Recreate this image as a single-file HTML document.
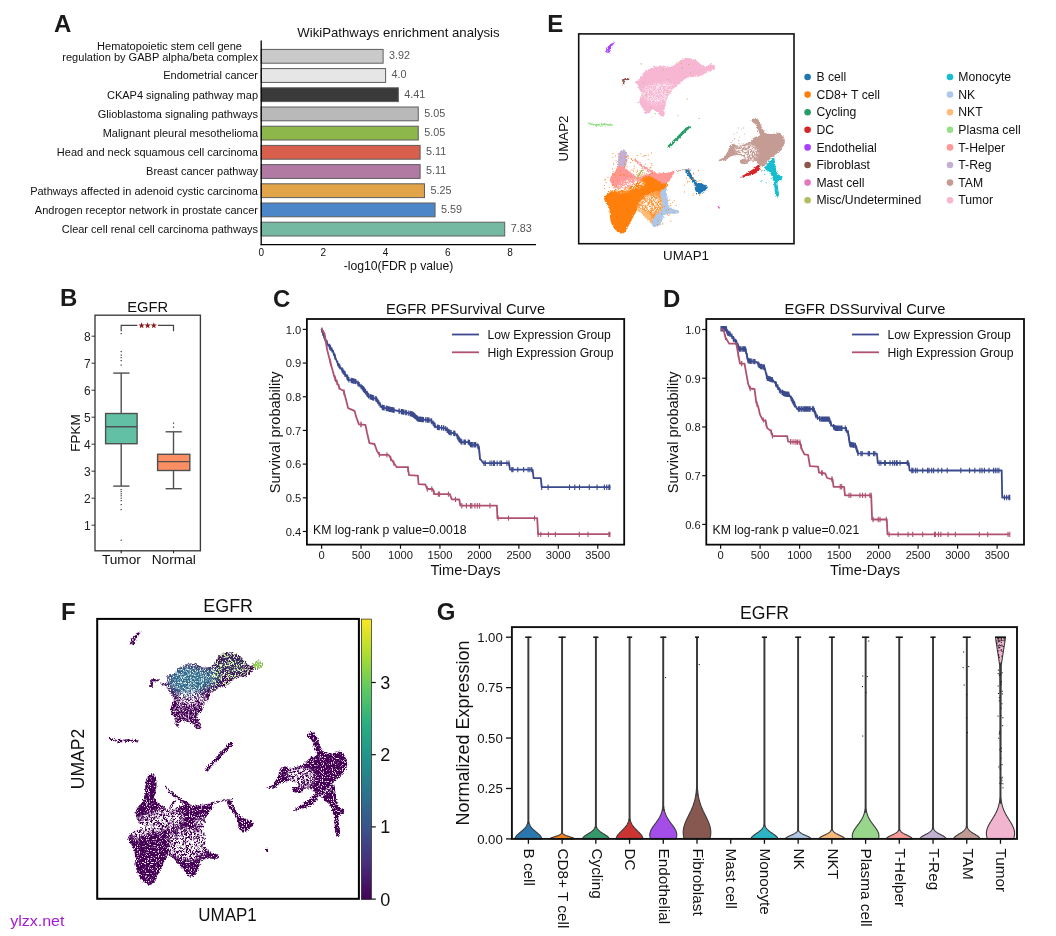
<!DOCTYPE html>
<html><head><meta charset="utf-8"><title>figure</title>
<style>html,body{margin:0;padding:0;background:#fff}svg{display:block;will-change:transform}text{font-family:"Liberation Sans",sans-serif}</style></head><body>
<svg width="1056" height="936" viewBox="0 0 1056 936">
<rect width="1056" height="936" fill="#fff"/>
<text x="54" y="32" font-size="24" text-anchor="start" font-weight="bold" fill="#1a1a1a" >A</text>
<text x="60" y="306.3" font-size="24" text-anchor="start" font-weight="bold" fill="#1a1a1a" >B</text>
<text x="273" y="306.5" font-size="24" text-anchor="start" font-weight="bold" fill="#1a1a1a" >C</text>
<text x="663" y="306.5" font-size="24" text-anchor="start" font-weight="bold" fill="#1a1a1a" >D</text>
<text x="547.2" y="31.8" font-size="24" text-anchor="start" font-weight="bold" fill="#1a1a1a" >E</text>
<text x="61" y="619.5" font-size="24" text-anchor="start" font-weight="bold" fill="#1a1a1a" >F</text>
<text x="436.8" y="620" font-size="24" text-anchor="start" font-weight="bold" fill="#1a1a1a" >G</text>
<text x="398.5" y="36.6" font-size="13.2" text-anchor="middle" font-weight="normal" fill="#111" >WikiPathways enrichment analysis</text>
<rect x="261.2" y="49.4" width="121.912" height="13.8" fill="#c9c9c9" stroke="#5e5e5e" stroke-width="1.0" />
<text x="242" y="49.699999999999996" font-size="11.05" text-anchor="end" font-weight="normal" fill="#111" >Hematopoietic stem cell gene</text>
<text x="258" y="60.7" font-size="11.05" text-anchor="end" font-weight="normal" fill="#111" >regulation by GABP alpha/beta complex</text>
<text x="389.11199999999997" y="59.199999999999996" font-size="10.8" text-anchor="start" font-weight="normal" fill="#555" >3.92</text>
<rect x="261.2" y="68.6" width="124.4" height="13.8" fill="#e6e6e6" stroke="#5e5e5e" stroke-width="1.0" />
<text x="258" y="79.4" font-size="11" text-anchor="end" font-weight="normal" fill="#111" >Endometrial cancer</text>
<text x="391.6" y="78.4" font-size="10.8" text-anchor="start" font-weight="normal" fill="#555" >4.0</text>
<rect x="261.2" y="87.8" width="137.151" height="13.8" fill="#3a3a3a" stroke="#5e5e5e" stroke-width="1.0" />
<text x="258" y="98.60000000000001" font-size="11" text-anchor="end" font-weight="normal" fill="#111" >CKAP4 signaling pathway map</text>
<text x="404.351" y="97.60000000000001" font-size="10.8" text-anchor="start" font-weight="normal" fill="#555" >4.41</text>
<rect x="261.2" y="107.0" width="157.055" height="13.8" fill="#b9b9b9" stroke="#5e5e5e" stroke-width="1.0" />
<text x="258" y="117.80000000000001" font-size="11" text-anchor="end" font-weight="normal" fill="#111" >Glioblastoma signaling pathways</text>
<text x="424.255" y="116.80000000000001" font-size="10.8" text-anchor="start" font-weight="normal" fill="#555" >5.05</text>
<rect x="261.2" y="126.19999999999999" width="157.055" height="13.8" fill="#8db64b" stroke="#5e5e5e" stroke-width="1.0" />
<text x="258" y="137.0" font-size="11" text-anchor="end" font-weight="normal" fill="#111" >Malignant pleural mesothelioma</text>
<text x="424.255" y="136.0" font-size="10.8" text-anchor="start" font-weight="normal" fill="#555" >5.05</text>
<rect x="261.2" y="145.4" width="158.92100000000002" height="13.8" fill="#d75f4c" stroke="#5e5e5e" stroke-width="1.0" />
<text x="258" y="156.20000000000002" font-size="11" text-anchor="end" font-weight="normal" fill="#111" >Head and neck squamous cell carcinoma</text>
<text x="426.121" y="155.20000000000002" font-size="10.8" text-anchor="start" font-weight="normal" fill="#555" >5.11</text>
<rect x="261.2" y="164.6" width="158.92100000000002" height="13.8" fill="#b07aa2" stroke="#5e5e5e" stroke-width="1.0" />
<text x="258" y="175.4" font-size="11" text-anchor="end" font-weight="normal" fill="#111" >Breast cancer pathway</text>
<text x="426.121" y="174.4" font-size="10.8" text-anchor="start" font-weight="normal" fill="#555" >5.11</text>
<rect x="261.2" y="183.8" width="163.275" height="13.8" fill="#e1a448" stroke="#5e5e5e" stroke-width="1.0" />
<text x="258" y="194.60000000000002" font-size="11" text-anchor="end" font-weight="normal" fill="#111" >Pathways affected in adenoid cystic carcinoma</text>
<text x="430.475" y="193.60000000000002" font-size="10.8" text-anchor="start" font-weight="normal" fill="#555" >5.25</text>
<rect x="261.2" y="203.0" width="173.849" height="13.8" fill="#4b86c9" stroke="#5e5e5e" stroke-width="1.0" />
<text x="258" y="213.8" font-size="11" text-anchor="end" font-weight="normal" fill="#111" >Androgen receptor network in prostate cancer</text>
<text x="441.049" y="212.8" font-size="10.8" text-anchor="start" font-weight="normal" fill="#555" >5.59</text>
<rect x="261.2" y="222.2" width="243.513" height="13.8" fill="#76b9a2" stroke="#5e5e5e" stroke-width="1.0" />
<text x="258" y="233.0" font-size="11" text-anchor="end" font-weight="normal" fill="#111" >Clear cell renal cell carcinoma pathways</text>
<text x="510.71299999999997" y="232.0" font-size="10.8" text-anchor="start" font-weight="normal" fill="#555" >7.83</text>
<line x1="261.2" y1="40.5" x2="261.2" y2="245.2" stroke="#000" stroke-width="1.3" />
<line x1="260.59999999999997" y1="244.6" x2="536" y2="244.6" stroke="#000" stroke-width="1.3" />
<text x="261.2" y="255.8" font-size="10" text-anchor="middle" font-weight="normal" fill="#111" >0</text>
<text x="323.4" y="255.8" font-size="10" text-anchor="middle" font-weight="normal" fill="#111" >2</text>
<text x="385.6" y="255.8" font-size="10" text-anchor="middle" font-weight="normal" fill="#111" >4</text>
<text x="447.8" y="255.8" font-size="10" text-anchor="middle" font-weight="normal" fill="#111" >6</text>
<text x="510.0" y="255.8" font-size="10" text-anchor="middle" font-weight="normal" fill="#111" >8</text>
<text x="398.5" y="269.7" font-size="12.2" text-anchor="middle" font-weight="normal" fill="#111" >-log10(FDR p value)</text>
<rect x="95.0" y="315.2" width="105.4" height="235.59999999999997" fill="none" stroke="#3a3a3a" stroke-width="1.35" />
<text x="147.7" y="311.8" font-size="14.7" text-anchor="middle" font-weight="normal" fill="#111" >EGFR</text>
<line x1="91.5" y1="525.2" x2="95.0" y2="525.2" stroke="#222" stroke-width="0.9" />
<text x="90.8" y="529.5" font-size="12" text-anchor="end" font-weight="normal" fill="#222" >1</text>
<line x1="91.5" y1="498.20000000000005" x2="95.0" y2="498.20000000000005" stroke="#222" stroke-width="0.9" />
<text x="90.8" y="502.50000000000006" font-size="12" text-anchor="end" font-weight="normal" fill="#222" >2</text>
<line x1="91.5" y1="471.20000000000005" x2="95.0" y2="471.20000000000005" stroke="#222" stroke-width="0.9" />
<text x="90.8" y="475.50000000000006" font-size="12" text-anchor="end" font-weight="normal" fill="#222" >3</text>
<line x1="91.5" y1="444.20000000000005" x2="95.0" y2="444.20000000000005" stroke="#222" stroke-width="0.9" />
<text x="90.8" y="448.50000000000006" font-size="12" text-anchor="end" font-weight="normal" fill="#222" >4</text>
<line x1="91.5" y1="417.20000000000005" x2="95.0" y2="417.20000000000005" stroke="#222" stroke-width="0.9" />
<text x="90.8" y="421.50000000000006" font-size="12" text-anchor="end" font-weight="normal" fill="#222" >5</text>
<line x1="91.5" y1="390.20000000000005" x2="95.0" y2="390.20000000000005" stroke="#222" stroke-width="0.9" />
<text x="90.8" y="394.50000000000006" font-size="12" text-anchor="end" font-weight="normal" fill="#222" >6</text>
<line x1="91.5" y1="363.20000000000005" x2="95.0" y2="363.20000000000005" stroke="#222" stroke-width="0.9" />
<text x="90.8" y="367.50000000000006" font-size="12" text-anchor="end" font-weight="normal" fill="#222" >7</text>
<line x1="91.5" y1="336.20000000000005" x2="95.0" y2="336.20000000000005" stroke="#222" stroke-width="0.9" />
<text x="90.8" y="340.50000000000006" font-size="12" text-anchor="end" font-weight="normal" fill="#222" >8</text>
<text transform="translate(79.6,433) rotate(-90)" font-size="13.5" text-anchor="middle" fill="#111">FPKM</text>
<line x1="121.2" y1="373.1" x2="121.2" y2="413.5" stroke="#505050" stroke-width="1.4" />
<line x1="121.2" y1="443.7" x2="121.2" y2="486.1" stroke="#505050" stroke-width="1.4" />
<line x1="113.2" y1="373.1" x2="129.5" y2="373.1" stroke="#505050" stroke-width="1.4" />
<line x1="113.2" y1="486.1" x2="129.5" y2="486.1" stroke="#505050" stroke-width="1.4" />
<rect x="105.6" y="413.5" width="31.5" height="30.19999999999999" fill="#62c0a4" stroke="#505050" stroke-width="1.4" />
<line x1="105.6" y1="426.8" x2="137.1" y2="426.8" stroke="#505050" stroke-width="1.4" />
<line x1="173.5" y1="431.8" x2="173.5" y2="454.3" stroke="#505050" stroke-width="1.4" />
<line x1="173.5" y1="470.5" x2="173.5" y2="488.7" stroke="#505050" stroke-width="1.4" />
<line x1="165.6" y1="431.8" x2="181.8" y2="431.8" stroke="#505050" stroke-width="1.4" />
<line x1="165.6" y1="488.7" x2="181.8" y2="488.7" stroke="#505050" stroke-width="1.4" />
<rect x="157.6" y="454.3" width="32.20000000000002" height="16.19999999999999" fill="#fb8e62" stroke="#505050" stroke-width="1.4" />
<line x1="157.6" y1="461.6" x2="189.8" y2="461.6" stroke="#505050" stroke-width="1.4" />
<rect x="120.6" y="333" width="1.2" height="1.2" fill="#333"/>
<rect x="120.6" y="351" width="1.2" height="1.2" fill="#333"/>
<rect x="120.6" y="354.5" width="1.2" height="1.2" fill="#333"/>
<rect x="120.6" y="357" width="1.2" height="1.2" fill="#333"/>
<rect x="120.6" y="360" width="1.2" height="1.2" fill="#333"/>
<rect x="120.6" y="364.5" width="1.2" height="1.2" fill="#333"/>
<rect x="120.6" y="489" width="1.2" height="1.2" fill="#333"/>
<rect x="120.6" y="491" width="1.2" height="1.2" fill="#333"/>
<rect x="120.6" y="493.2" width="1.2" height="1.2" fill="#333"/>
<rect x="120.6" y="495.2" width="1.2" height="1.2" fill="#333"/>
<rect x="120.6" y="497.6" width="1.2" height="1.2" fill="#333"/>
<rect x="120.6" y="500" width="1.2" height="1.2" fill="#333"/>
<rect x="120.6" y="504" width="1.2" height="1.2" fill="#333"/>
<rect x="120.6" y="509" width="1.2" height="1.2" fill="#333"/>
<rect x="120.6" y="539.6" width="1.2" height="1.2" fill="#333"/>
<rect x="172.9" y="422.5" width="1.2" height="1.2" fill="#333"/>
<rect x="172.9" y="426.5" width="1.2" height="1.2" fill="#333"/>
<path d="M121.2 331.3 V325.4 H137.3 M158 325.4 H173.5 V331.3" fill="none" stroke="#444" stroke-width="1.2"/>
<polygon points="141.60,322.30 142.39,324.51 144.74,324.58 142.88,326.02 143.54,328.27 141.60,326.95 139.66,328.27 140.32,326.02 138.46,324.58 140.81,324.51" fill="#8e1b1b"/>
<polygon points="147.60,322.30 148.39,324.51 150.74,324.58 148.88,326.02 149.54,328.27 147.60,326.95 145.66,328.27 146.32,326.02 144.46,324.58 146.81,324.51" fill="#8e1b1b"/>
<polygon points="153.80,322.30 154.59,324.51 156.94,324.58 155.08,326.02 155.74,328.27 153.80,326.95 151.86,328.27 152.52,326.02 150.66,324.58 153.01,324.51" fill="#8e1b1b"/>
<line x1="121.2" y1="550.8" x2="121.2" y2="553.1999999999999" stroke="#222" stroke-width="1.1" />
<line x1="173.6" y1="550.8" x2="173.6" y2="553.1999999999999" stroke="#222" stroke-width="1.1" />
<text x="121.4" y="563.5" font-size="13.7" text-anchor="middle" font-weight="normal" fill="#111" >Tumor</text>
<text x="173.8" y="563.5" font-size="13.7" text-anchor="middle" font-weight="normal" fill="#111" >Normal</text>
<rect x="306.9" y="319.0" width="317.30000000000007" height="225.64999999999998" fill="none" stroke="#0a0a0a" stroke-width="1.8" />
<text x="465.5" y="314.3" font-size="14.7" text-anchor="middle" font-weight="normal" fill="#111" >EGFR PFSurvival Curve</text>
<line x1="321.6" y1="544.65" x2="321.6" y2="548.75" stroke="#111" stroke-width="1.2" />
<text x="321.6" y="558.9499999999999" font-size="11.2" text-anchor="middle" font-weight="normal" fill="#1a1a1a" >0</text>
<line x1="361.05" y1="544.65" x2="361.05" y2="548.75" stroke="#111" stroke-width="1.2" />
<text x="361.05" y="558.9499999999999" font-size="11.2" text-anchor="middle" font-weight="normal" fill="#1a1a1a" >500</text>
<line x1="400.5" y1="544.65" x2="400.5" y2="548.75" stroke="#111" stroke-width="1.2" />
<text x="400.5" y="558.9499999999999" font-size="11.2" text-anchor="middle" font-weight="normal" fill="#1a1a1a" >1000</text>
<line x1="439.95000000000005" y1="544.65" x2="439.95000000000005" y2="548.75" stroke="#111" stroke-width="1.2" />
<text x="439.95000000000005" y="558.9499999999999" font-size="11.2" text-anchor="middle" font-weight="normal" fill="#1a1a1a" >1500</text>
<line x1="479.40000000000003" y1="544.65" x2="479.40000000000003" y2="548.75" stroke="#111" stroke-width="1.2" />
<text x="479.40000000000003" y="558.9499999999999" font-size="11.2" text-anchor="middle" font-weight="normal" fill="#1a1a1a" >2000</text>
<line x1="518.85" y1="544.65" x2="518.85" y2="548.75" stroke="#111" stroke-width="1.2" />
<text x="518.85" y="558.9499999999999" font-size="11.2" text-anchor="middle" font-weight="normal" fill="#1a1a1a" >2500</text>
<line x1="558.3000000000001" y1="544.65" x2="558.3000000000001" y2="548.75" stroke="#111" stroke-width="1.2" />
<text x="558.3000000000001" y="558.9499999999999" font-size="11.2" text-anchor="middle" font-weight="normal" fill="#1a1a1a" >3000</text>
<line x1="597.75" y1="544.65" x2="597.75" y2="548.75" stroke="#111" stroke-width="1.2" />
<text x="597.75" y="558.9499999999999" font-size="11.2" text-anchor="middle" font-weight="normal" fill="#1a1a1a" >3500</text>
<line x1="302.79999999999995" y1="329.4" x2="306.9" y2="329.4" stroke="#111" stroke-width="1.2" />
<text x="301.29999999999995" y="333.7" font-size="11.2" text-anchor="end" font-weight="normal" fill="#1a1a1a" >1.0</text>
<line x1="302.79999999999995" y1="363.08" x2="306.9" y2="363.08" stroke="#111" stroke-width="1.2" />
<text x="301.29999999999995" y="367.38" font-size="11.2" text-anchor="end" font-weight="normal" fill="#1a1a1a" >0.9</text>
<line x1="302.79999999999995" y1="396.76" x2="306.9" y2="396.76" stroke="#111" stroke-width="1.2" />
<text x="301.29999999999995" y="401.06" font-size="11.2" text-anchor="end" font-weight="normal" fill="#1a1a1a" >0.8</text>
<line x1="302.79999999999995" y1="430.43999999999994" x2="306.9" y2="430.43999999999994" stroke="#111" stroke-width="1.2" />
<text x="301.29999999999995" y="434.73999999999995" font-size="11.2" text-anchor="end" font-weight="normal" fill="#1a1a1a" >0.7</text>
<line x1="302.79999999999995" y1="464.12" x2="306.9" y2="464.12" stroke="#111" stroke-width="1.2" />
<text x="301.29999999999995" y="468.42" font-size="11.2" text-anchor="end" font-weight="normal" fill="#1a1a1a" >0.6</text>
<line x1="302.79999999999995" y1="497.79999999999995" x2="306.9" y2="497.79999999999995" stroke="#111" stroke-width="1.2" />
<text x="301.29999999999995" y="502.09999999999997" font-size="11.2" text-anchor="end" font-weight="normal" fill="#1a1a1a" >0.5</text>
<line x1="302.79999999999995" y1="531.48" x2="306.9" y2="531.48" stroke="#111" stroke-width="1.2" />
<text x="301.29999999999995" y="535.78" font-size="11.2" text-anchor="end" font-weight="normal" fill="#1a1a1a" >0.4</text>
<text transform="translate(279.5,432.325) rotate(-90)" font-size="14.5" text-anchor="middle" fill="#111">Survival probability</text>
<text x="465.5" y="574.9499999999999" font-size="14.6" text-anchor="middle" font-weight="normal" fill="#111" >Time-Days</text>
<path d="M321.4 328.7 L324.5 337.2 L327.2 343.6 L332.7 350.9 L338.1 364.5 L345.4 374.5 L349.0 379.9 L356.3 381.7 L362.7 388.1 L369.0 396.3 L376.3 399.0 L381.7 407.2 L390.8 409.5 L405.4 412.4 L412.7 414.2 L418.1 419.1 L430.8 420.3 L436.3 427.2 L445.4 428.3 L449.5 432.4 L455.6 433.6 L459.5 440.0 L461.7 442.1 L469.1 442.1 L470.4 444.6 L477.2 444.9 L479.1 448.1 L479.9 458.5 L483.5 463.2 L509.0 463.2 L510.0 469.6 L532.6 469.6 L533.6 478.1 L540.8 478.1 L541.7 487.2 L610.4 487.2" fill="none" stroke="#3a4a8d" stroke-width="1.8" stroke-linejoin="round"/>
<path d="M355.8 378.9v5.4M405.7 409.8v5.4M376.6 396.8v5.4M415.7 414.2v5.4M419.2 416.5v5.4M330.2 344.9v5.4M323.1 330.6v5.4M454.7 430.7v5.4M359.2 381.9v5.4M355.2 378.7v5.4M479.6 452.4v5.4M392.9 407.2v5.4M454.6 430.7v5.4M394.0 407.4v5.4M421.5 416.7v5.4M342.0 367.2v5.4M420.8 416.7v5.4M459.3 436.9v5.4M402.1 409.0v5.4M438.5 424.8v5.4M427.2 417.3v5.4M330.0 344.6v5.4M441.5 425.1v5.4M413.6 412.4v5.4M365.6 389.1v5.4M325.3 336.5v5.4M458.9 436.3v5.4M393.3 407.3v5.4M434.8 422.7v5.4M460.9 438.6v5.4M434.1 421.8v5.4M468.3 439.4v5.4M380.2 402.3v5.4M448.5 428.7v5.4M388.5 406.2v5.4M470.5 441.9v5.4M460.9 438.7v5.4M334.7 353.2v5.4M339.9 364.2v5.4M352.2 378.0v5.4M475.8 442.1v5.4M387.0 405.9v5.4M419.3 416.5v5.4M365.5 389.1v5.4M399.3 408.5v5.4M378.9 400.3v5.4M373.5 395.3v5.4M412.7 411.5v5.4M412.6 411.5v5.4M465.3 439.4v5.4M429.1 417.4v5.4M469.6 440.3v5.4M457.6 434.2v5.4M479.4 448.7v5.4M427.2 417.3v5.4M343.9 369.7v5.4M458.2 435.2v5.4M475.7 442.1v5.4M465.4 439.4v5.4M410.0 410.8v5.4M434.1 421.7v5.4M351.2 377.7v5.4M453.7 430.5v5.4M410.7 411.0v5.4M363.1 385.9v5.4M329.9 344.5v5.4M457.2 433.6v5.4M479.3 447.8v5.4M333.5 350.3v5.4M448.5 428.7v5.4M382.6 404.7v5.4M342.1 367.2v5.4M364.5 387.7v5.4M443.3 425.3v5.4M460.0 437.7v5.4M327.1 340.6v5.4M417.3 415.7v5.4M327.2 340.8v5.4M434.8 422.6v5.4M370.1 394.0v5.4M461.2 439.0v5.4M478.2 443.9v5.4M399.0 408.4v5.4M479.8 454.6v5.4M366.8 390.7v5.4M331.9 347.2v5.4M415.0 413.6v5.4M325.4 336.6v5.4M348.9 377.0v5.4M382.2 404.6v5.4M416.7 415.1v5.4M342.9 368.3v5.4M326.8 340.1v5.4M459.2 436.8v5.4M367.4 391.5v5.4M474.6 442.1v5.4M464.0 439.4v5.4M377.8 398.5v5.4M391.2 406.9v5.4M401.5 408.9v5.4M422.4 416.8v5.4M414.4 413.0v5.4M408.3 410.4v5.4M418.2 416.4v5.4M471.4 441.9v5.4M399.3 408.5v5.4M386.2 405.6v5.4M435.1 422.9v5.4M355.8 378.9v5.4M365.5 389.1v5.4M477.8 443.3v5.4M401.7 409.0v5.4M406.4 409.9v5.4M322.8 330.0v5.4M383.5 404.9v5.4M411.8 411.3v5.4M323.9 332.9v5.4M417.5 415.9v5.4M420.3 416.6v5.4M329.4 343.8v5.4M419.5 416.5v5.4M392.2 407.1v5.4M428.6 417.4v5.4M373.7 395.4v5.4M433.1 420.4v5.4M437.9 424.7v5.4M324.2 333.7v5.4M329.5 343.9v5.4M428.0 417.3v5.4M475.4 442.1v5.4M357.9 380.6v5.4M390.5 406.7v5.4M413.9 412.6v5.4M368.3 392.7v5.4M375.7 396.1v5.4M367.2 391.3v5.4M376.5 396.6v5.4M414.4 413.0v5.4M365.4 388.9v5.4M377.7 398.4v5.4M443.9 425.4v5.4M324.8 335.2v5.4M410.0 410.8v5.4M437.4 424.6v5.4M366.9 390.8v5.4M353.2 378.2v5.4M449.0 429.2v5.4M355.9 378.9v5.4M347.4 374.8v5.4M386.9 405.8v5.4M431.7 418.8v5.4M335.2 354.6v5.4M368.6 393.1v5.4M370.6 394.2v5.4M454.1 430.6v5.4M387.4 405.9v5.4M457.5 434.0v5.4M344.8 371.0v5.4M371.1 394.4v5.4M423.5 416.9v5.4M461.9 439.4v5.4M389.6 406.5v5.4M353.6 378.3v5.4M337.7 360.8v5.4M403.2 409.3v5.4M347.9 375.6v5.4M449.4 429.6v5.4M454.9 430.8v5.4M346.9 374.0v5.4M362.2 384.9v5.4M449.5 429.7v5.4M422.0 416.8v5.4M449.4 429.6v5.4M372.5 394.9v5.4M338.9 362.9v5.4M364.2 387.3v5.4M447.4 427.6v5.4M361.0 383.7v5.4M372.7 395.0v5.4M383.7 405.0v5.4M384.2 405.1v5.4M382.5 404.7v5.4M468.2 439.4v5.4M342.8 368.3v5.4M322.0 327.6v5.4M471.9 442.0v5.4M461.1 438.8v5.4M479.1 445.5v5.4M386.7 405.8v5.4M473.1 442.0v5.4M469.4 439.9v5.4M353.1 378.2v5.4M439.3 424.9v5.4M454.6 430.7v5.4M425.7 417.1v5.4M401.3 408.9v5.4M363.7 386.7v5.4M371.8 394.6v5.4M354.0 378.4v5.4M330.6 345.4v5.4M413.3 412.0v5.4M363.4 386.3v5.4M450.0 429.8v5.4M327.2 340.9v5.4M465.2 439.4v5.4M431.1 417.9v5.4M468.8 439.4v5.4M464.0 439.4v5.4M464.5 439.4v5.4M411.3 411.2v5.4M323.1 330.5v5.4M439.2 424.9v5.4M345.2 371.5v5.4M365.3 388.8v5.4M425.7 417.1v5.4M402.4 409.1v5.4M383.2 404.9v5.4M471.1 441.9v5.4M416.9 415.4v5.4M371.9 394.7v5.4M358.1 380.8v5.4M458.3 435.4v5.4M394.1 407.5v5.4M445.7 425.9v5.4M373.6 395.3v5.4M348.9 377.0v5.4M404.0 409.4v5.4M451.2 430.0v5.4M345.1 371.4v5.4M447.1 427.3v5.4M541.7 484.5v5.4M548.1 484.5v5.4M569.5 484.5v5.4M574.8 484.5v5.4M579.5 484.5v5.4M589.3 484.5v5.4M597.1 484.5v5.4M604.4 484.5v5.4M606.8 484.5v5.4M608.9 484.5v5.4M609.8 484.5v5.4M484.0 460.5v5.4M485.4 460.5v5.4M490.0 460.5v5.4M491.8 460.5v5.4M493.6 460.5v5.4M494.5 460.5v5.4M497.2 460.5v5.4M500.0 460.5v5.4M501.4 460.5v5.4M506.9 460.5v5.4M509.0 460.5v5.4M511.8 466.9v5.4M513.0 466.9v5.4M517.8 466.9v5.4M523.6 466.9v5.4M528.1 466.9v5.4M529.9 466.9v5.4M531.7 466.9v5.4" fill="none" stroke="#3a4a8d" stroke-width="1.1"/>
<path d="M321.4 328.7 L324.5 333.6 L327.2 350.0 L330.0 360.9 L334.5 377.2 L336.3 380.8 L340.0 389.0 L343.6 390.8 L346.3 400.8 L348.1 408.1 L354.5 410.8 L356.3 417.2 L359.0 424.4 L365.4 424.8 L367.1 433.0 L369.5 443.2 L374.5 444.0 L377.0 451.0 L379.6 454.9 L388.6 454.9 L392.2 460.8 L396.8 467.2 L407.8 467.2 L409.0 475.2 L417.9 475.6 L418.6 484.2 L425.4 484.5 L427.2 489.0 L432.6 489.0 L434.5 494.1 L449.9 494.1 L451.7 499.3 L459.3 499.5 L460.3 505.7 L496.9 505.7 L497.4 518.1 L537.2 518.1 L538.1 534.2 L610.4 534.2" fill="none" stroke="#b0516f" stroke-width="1.8" stroke-linejoin="round"/>
<path d="M448.4 491.4v5.4M431.8 486.3v5.4M433.9 489.7v5.4M330.7 360.8v5.4M408.1 466.5v5.4M439.5 491.4v5.4M334.9 375.3v5.4M361.2 421.8v5.4M360.8 421.8v5.4M393.8 460.3v5.4M379.4 451.9v5.4M386.9 452.2v5.4M427.3 486.3v5.4M330.2 358.8v5.4M335.5 376.5v5.4M344.2 390.4v5.4M344.0 389.6v5.4M337.0 379.7v5.4M455.5 496.7v5.4M438.3 491.4v5.4M339.0 384.2v5.4M390.7 455.7v5.4M538.1 531.7v5.4M540.8 531.7v5.4M548.4 531.7v5.4M555.4 531.7v5.4M579.3 531.7v5.4M588.0 531.7v5.4M608.9 531.7v5.4M609.8 531.7v5.4M461.8 503.0v5.4M466.4 503.0v5.4M470.5 503.0v5.4M471.8 503.0v5.4M474.9 503.0v5.4M477.3 503.0v5.4M479.6 503.0v5.4M490.0 503.0v5.4M498.1 515.4v5.4M508.5 515.4v5.4M534.5 515.4v5.4" fill="none" stroke="#b0516f" stroke-width="1.1"/>
<line x1="452" y1="334.5" x2="479" y2="334.5" stroke="#3a4a8d" stroke-width="1.8" />
<line x1="452" y1="352.3" x2="479" y2="352.3" stroke="#b0516f" stroke-width="1.8" />
<text x="487.5" y="338.7" font-size="12.2" text-anchor="start" font-weight="normal" fill="#111" >Low Expression Group</text>
<text x="487.5" y="356.5" font-size="12.2" text-anchor="start" font-weight="normal" fill="#111" >High Expression Group</text>
<text x="313" y="533.5" font-size="12.25" text-anchor="start" font-weight="normal" fill="#111" >KM log-rank p value=0.0018</text>
<rect x="706.3" y="319.0" width="317.70000000000005" height="225.64999999999998" fill="none" stroke="#0a0a0a" stroke-width="1.8" />
<text x="865" y="314.3" font-size="14.7" text-anchor="middle" font-weight="normal" fill="#111" >EGFR DSSurvival Curve</text>
<line x1="720.6" y1="544.65" x2="720.6" y2="548.75" stroke="#111" stroke-width="1.2" />
<text x="720.6" y="558.9499999999999" font-size="11.2" text-anchor="middle" font-weight="normal" fill="#1a1a1a" >0</text>
<line x1="760.1" y1="544.65" x2="760.1" y2="548.75" stroke="#111" stroke-width="1.2" />
<text x="760.1" y="558.9499999999999" font-size="11.2" text-anchor="middle" font-weight="normal" fill="#1a1a1a" >500</text>
<line x1="799.6" y1="544.65" x2="799.6" y2="548.75" stroke="#111" stroke-width="1.2" />
<text x="799.6" y="558.9499999999999" font-size="11.2" text-anchor="middle" font-weight="normal" fill="#1a1a1a" >1000</text>
<line x1="839.1" y1="544.65" x2="839.1" y2="548.75" stroke="#111" stroke-width="1.2" />
<text x="839.1" y="558.9499999999999" font-size="11.2" text-anchor="middle" font-weight="normal" fill="#1a1a1a" >1500</text>
<line x1="878.6" y1="544.65" x2="878.6" y2="548.75" stroke="#111" stroke-width="1.2" />
<text x="878.6" y="558.9499999999999" font-size="11.2" text-anchor="middle" font-weight="normal" fill="#1a1a1a" >2000</text>
<line x1="918.1" y1="544.65" x2="918.1" y2="548.75" stroke="#111" stroke-width="1.2" />
<text x="918.1" y="558.9499999999999" font-size="11.2" text-anchor="middle" font-weight="normal" fill="#1a1a1a" >2500</text>
<line x1="957.6" y1="544.65" x2="957.6" y2="548.75" stroke="#111" stroke-width="1.2" />
<text x="957.6" y="558.9499999999999" font-size="11.2" text-anchor="middle" font-weight="normal" fill="#1a1a1a" >3000</text>
<line x1="997.1" y1="544.65" x2="997.1" y2="548.75" stroke="#111" stroke-width="1.2" />
<text x="997.1" y="558.9499999999999" font-size="11.2" text-anchor="middle" font-weight="normal" fill="#1a1a1a" >3500</text>
<line x1="702.1999999999999" y1="329.5" x2="706.3" y2="329.5" stroke="#111" stroke-width="1.2" />
<text x="700.6999999999999" y="333.8" font-size="11.2" text-anchor="end" font-weight="normal" fill="#1a1a1a" >1.0</text>
<line x1="702.1999999999999" y1="378.23" x2="706.3" y2="378.23" stroke="#111" stroke-width="1.2" />
<text x="700.6999999999999" y="382.53000000000003" font-size="11.2" text-anchor="end" font-weight="normal" fill="#1a1a1a" >0.9</text>
<line x1="702.1999999999999" y1="426.96" x2="706.3" y2="426.96" stroke="#111" stroke-width="1.2" />
<text x="700.6999999999999" y="431.26" font-size="11.2" text-anchor="end" font-weight="normal" fill="#1a1a1a" >0.8</text>
<line x1="702.1999999999999" y1="475.69" x2="706.3" y2="475.69" stroke="#111" stroke-width="1.2" />
<text x="700.6999999999999" y="479.99" font-size="11.2" text-anchor="end" font-weight="normal" fill="#1a1a1a" >0.7</text>
<line x1="702.1999999999999" y1="524.42" x2="706.3" y2="524.42" stroke="#111" stroke-width="1.2" />
<text x="700.6999999999999" y="528.7199999999999" font-size="11.2" text-anchor="end" font-weight="normal" fill="#1a1a1a" >0.6</text>
<text transform="translate(677.8,432.325) rotate(-90)" font-size="14.5" text-anchor="middle" fill="#111">Survival probability</text>
<text x="865" y="574.9499999999999" font-size="14.6" text-anchor="middle" font-weight="normal" fill="#111" >Time-Days</text>
<path d="M720.9 328.7 L726.3 328.7 L727.2 332.7 L730.9 334.5 L733.6 339.1 L737.2 343.6 L739.0 349.0 L745.4 349.0 L748.1 360.9 L756.3 361.8 L759.9 366.3 L764.5 367.2 L767.2 378.1 L772.6 379.9 L776.3 384.5 L779.9 390.8 L784.5 393.9 L789.0 394.5 L792.6 400.8 L797.2 409.0 L813.5 409.0 L813.6 409.1 L816.3 416.3 L819.9 419.1 L829.0 419.1 L831.7 425.4 L835.4 428.2 L845.4 428.2 L848.1 432.7 L849.9 444.5 L855.4 445.4 L858.1 453.4 L876.9 453.6 L877.8 463.0 L908.7 463.0 L909.6 470.5 L1001.7 470.5 L1002.2 497.5 L1009.8 497.5" fill="none" stroke="#3a4a8d" stroke-width="1.8" stroke-linejoin="round"/>
<path d="M806.0 406.3v5.4M823.0 416.4v5.4M830.7 420.4v5.4M850.4 441.9v5.4M822.7 416.4v5.4M848.6 433.3v5.4M725.4 326.0v5.4M783.8 390.7v5.4M850.6 441.9v5.4M810.0 406.3v5.4M846.2 426.9v5.4M736.4 339.9v5.4M784.3 391.1v5.4M754.4 358.9v5.4M794.4 401.3v5.4M798.3 406.3v5.4M722.9 326.0v5.4M749.8 358.3v5.4M759.0 362.4v5.4M848.1 430.2v5.4M826.7 416.4v5.4M742.7 346.3v5.4M830.9 420.9v5.4M739.5 346.3v5.4M805.1 406.3v5.4M738.0 343.3v5.4M721.2 326.0v5.4M841.8 425.5v5.4M748.7 358.2v5.4M749.6 358.3v5.4M856.2 445.1v5.4M842.0 425.5v5.4M760.3 363.7v5.4M853.3 442.4v5.4M793.8 400.3v5.4M814.3 408.1v5.4M748.0 357.8v5.4M850.2 441.9v5.4M815.7 411.9v5.4M854.1 442.5v5.4M845.3 425.5v5.4M761.8 364.0v5.4M769.7 376.2v5.4M743.7 346.3v5.4M740.6 346.3v5.4M730.2 331.5v5.4M762.2 364.0v5.4M802.9 406.3v5.4M721.4 326.0v5.4M814.3 408.2v5.4M766.5 372.8v5.4M763.5 364.3v5.4M833.8 424.3v5.4M786.0 391.4v5.4M764.4 364.5v5.4M786.1 391.4v5.4M817.5 414.5v5.4M729.0 330.9v5.4M855.4 442.7v5.4M724.5 326.0v5.4M824.2 416.4v5.4M837.7 425.5v5.4M723.7 326.0v5.4M829.9 418.4v5.4M770.4 376.5v5.4M799.0 406.3v5.4M722.3 326.0v5.4M727.5 330.2v5.4M745.8 348.0v5.4M852.4 442.2v5.4M747.3 354.4v5.4M825.2 416.4v5.4M849.2 437.1v5.4M850.4 441.9v5.4M767.2 375.3v5.4M768.7 375.9v5.4M792.0 397.1v5.4M828.3 416.4v5.4M735.8 339.1v5.4M824.0 416.4v5.4M830.9 420.9v5.4M840.0 425.5v5.4M726.5 326.7v5.4M851.0 442.0v5.4M733.6 336.3v5.4M766.8 373.9v5.4M804.1 406.3v5.4M848.3 431.1v5.4M766.8 373.6v5.4M848.7 434.3v5.4M794.5 401.6v5.4M763.8 364.4v5.4M764.5 364.6v5.4M745.5 346.6v5.4M731.9 333.6v5.4M741.0 346.3v5.4M815.5 411.5v5.4M857.7 449.7v5.4M743.0 346.3v5.4M727.8 330.3v5.4M856.7 446.4v5.4M793.1 399.0v5.4M775.9 381.3v5.4M753.0 358.7v5.4M801.5 406.3v5.4M834.9 425.1v5.4M782.4 389.8v5.4M777.9 384.5v5.4M728.9 330.8v5.4M848.1 430.1v5.4M726.0 326.0v5.4M788.0 391.6v5.4M836.7 425.5v5.4M738.5 344.6v5.4M821.4 416.4v5.4M851.6 442.1v5.4M807.1 406.3v5.4M829.9 418.5v5.4M735.6 338.8v5.4M779.4 387.3v5.4M741.1 346.3v5.4M837.7 425.5v5.4M761.2 363.9v5.4M782.0 389.5v5.4M858.0 450.5v5.4M838.8 425.5v5.4M855.5 443.0v5.4M782.1 389.6v5.4M787.2 391.5v5.4M821.1 416.4v5.4M785.8 391.4v5.4M760.6 363.7v5.4M775.6 380.9v5.4M740.7 346.3v5.4M772.0 377.0v5.4M856.8 447.0v5.4M853.1 442.3v5.4M806.6 406.3v5.4M788.9 391.7v5.4M766.6 373.0v5.4M733.3 335.9v5.4M758.1 361.3v5.4M829.2 416.8v5.4M841.2 425.5v5.4M769.7 376.2v5.4M829.7 417.9v5.4M828.1 416.4v5.4M816.1 413.1v5.4M812.4 406.3v5.4M825.8 416.4v5.4M770.0 376.3v5.4M817.5 414.5v5.4M759.2 362.7v5.4M786.8 391.5v5.4M827.3 416.4v5.4M815.7 412.0v5.4M761.0 363.8v5.4M850.9 442.0v5.4M810.1 406.3v5.4M799.4 406.3v5.4M722.7 326.0v5.4M794.8 402.0v5.4M755.0 358.9v5.4M813.6 406.3v5.4M783.4 390.5v5.4M833.5 424.1v5.4M809.8 406.3v5.4M831.0 421.1v5.4M767.7 375.6v5.4M809.3 406.3v5.4M822.4 416.4v5.4M835.1 425.3v5.4M768.0 375.7v5.4M837.4 425.5v5.4M841.6 425.5v5.4M815.4 411.3v5.4M855.5 443.1v5.4M852.6 442.2v5.4M791.2 395.7v5.4M792.6 398.1v5.4M743.7 346.3v5.4M836.4 425.5v5.4M849.8 441.0v5.4M785.5 391.3v5.4M815.8 412.2v5.4M819.6 416.1v5.4M821.2 416.4v5.4M744.6 346.3v5.4M829.0 416.4v5.4M799.4 406.3v5.4M812.6 406.3v5.4M777.7 384.3v5.4M806.1 406.3v5.4M828.1 416.4v5.4M808.1 406.3v5.4M819.7 416.2v5.4M725.2 326.0v5.4M742.8 346.3v5.4M780.3 388.4v5.4M810.2 406.3v5.4M750.2 358.4v5.4M815.2 410.6v5.4M807.2 406.3v5.4M727.0 328.9v5.4M784.6 391.2v5.4M751.3 358.5v5.4M728.6 330.7v5.4M738.8 345.5v5.4M764.5 364.8v5.4M745.9 348.3v5.4M747.0 353.1v5.4M726.4 326.3v5.4M783.7 390.7v5.4M772.5 377.2v5.4M804.2 406.3v5.4M800.9 406.3v5.4M753.1 358.7v5.4M846.5 427.3v5.4M721.0 326.0v5.4M775.8 381.2v5.4M758.9 362.3v5.4M776.4 382.0v5.4M736.7 340.2v5.4M835.6 425.5v5.4M771.6 376.9v5.4M726.4 326.5v5.4M804.5 406.3v5.4M734.0 336.9v5.4M794.6 401.6v5.4M766.7 373.4v5.4M911.8 467.8v5.4M913.0 467.8v5.4M915.4 467.8v5.4M917.2 467.8v5.4M922.7 467.8v5.4M927.6 467.8v5.4M929.0 467.8v5.4M931.7 467.8v5.4M933.6 467.8v5.4M938.1 467.8v5.4M941.7 467.8v5.4M947.2 467.8v5.4M960.8 467.8v5.4M969.5 467.8v5.4M974.8 467.8v5.4M979.9 467.8v5.4M982.0 467.8v5.4M984.4 467.8v5.4M989.0 467.8v5.4M993.5 467.8v5.4M995.3 467.8v5.4M997.1 467.8v5.4M998.9 467.8v5.4M1004.4 494.8v5.4M1006.7 494.8v5.4M1008.9 494.8v5.4M1009.8 494.8v5.4M879.1 460.3v5.4M880.9 460.3v5.4M884.5 460.3v5.4M885.4 460.3v5.4M890.0 460.3v5.4M892.7 460.3v5.4M894.5 460.3v5.4M896.3 460.3v5.4M897.2 460.3v5.4M900.0 460.3v5.4M907.2 460.3v5.4M908.1 460.3v5.4M860.9 450.9v5.4M862.2 450.9v5.4M868.2 450.9v5.4M869.4 450.9v5.4M873.6 450.9v5.4M874.9 450.9v5.4" fill="none" stroke="#3a4a8d" stroke-width="1.1"/>
<path d="M720.9 328.7 L723.6 330.0 L725.4 337.2 L729.1 343.6 L736.3 343.6 L738.1 353.6 L740.0 363.6 L744.5 363.6 L746.3 373.6 L748.1 383.6 L749.9 388.5 L754.5 389.0 L756.3 402.6 L758.1 406.3 L759.9 414.4 L762.7 419.9 L765.4 420.8 L767.2 428.1 L770.8 430.8 L772.6 436.2 L787.2 436.2 L788.1 441.7 L799.9 442.2 L801.7 448.9 L804.4 454.4 L808.1 454.9 L809.9 466.2 L818.1 466.6 L819.0 472.5 L825.3 473.5 L827.1 478.0 L832.6 479.4 L833.6 486.8 L844.1 486.8 L845.0 495.4 L871.2 495.4 L872.1 519.5 L886.8 519.5 L887.5 534.4 L1009.8 534.4" fill="none" stroke="#b0516f" stroke-width="1.8" stroke-linejoin="round"/>
<path d="M793.0 439.2v5.4M840.3 484.1v5.4M822.3 470.3v5.4M771.3 429.4v5.4M821.6 470.2v5.4M801.1 443.9v5.4M765.7 419.2v5.4M741.8 360.9v5.4M795.1 439.3v5.4M790.5 439.1v5.4M840.2 484.1v5.4M841.7 484.1v5.4M796.9 439.4v5.4M763.3 417.4v5.4M832.2 476.6v5.4M725.5 334.7v5.4M738.3 351.8v5.4M790.8 439.1v5.4M797.8 439.4v5.4M741.6 360.9v5.4M799.9 439.5v5.4M831.8 476.5v5.4M766.2 421.5v5.4M772.5 433.1v5.4M750.2 385.8v5.4M757.1 401.6v5.4M889.1 531.7v5.4M898.1 531.7v5.4M908.1 531.7v5.4M912.7 531.7v5.4M922.7 531.7v5.4M934.5 531.7v5.4M935.4 531.7v5.4M938.5 531.7v5.4M940.8 531.7v5.4M948.1 531.7v5.4M955.4 531.7v5.4M979.3 531.7v5.4M987.7 531.7v5.4M1008.0 531.7v5.4M1009.8 531.7v5.4M873.1 516.8v5.4M878.2 516.8v5.4M880.0 516.8v5.4M886.3 516.8v5.4M849.0 492.7v5.4M850.8 492.7v5.4M859.9 492.7v5.4M862.6 492.7v5.4M865.3 492.7v5.4M869.9 492.7v5.4M871.2 492.7v5.4" fill="none" stroke="#b0516f" stroke-width="1.1"/>
<line x1="852" y1="334.5" x2="879" y2="334.5" stroke="#3a4a8d" stroke-width="1.8" />
<line x1="852" y1="352.3" x2="879" y2="352.3" stroke="#b0516f" stroke-width="1.8" />
<text x="887.5" y="338.7" font-size="12.2" text-anchor="start" font-weight="normal" fill="#111" >Low Expression Group</text>
<text x="887.5" y="356.5" font-size="12.2" text-anchor="start" font-weight="normal" fill="#111" >High Expression Group</text>
<text x="712.5" y="534" font-size="12.25" text-anchor="start" font-weight="normal" fill="#111" >KM log-rank p value=0.021</text>
<defs><filter id="rough" x="-5%" y="-5%" width="110%" height="110%"><feTurbulence type="fractalNoise" baseFrequency="0.8" numOctaves="2" seed="3" result="n"/><feDisplacementMap in="SourceGraphic" in2="n" scale="3.2" xChannelSelector="R" yChannelSelector="G"/></filter><filter id="soft" x="-20%" y="-20%" width="140%" height="140%"><feTurbulence type="fractalNoise" baseFrequency="0.75" numOctaves="1" seed="9" result="n"/><feColorMatrix in="n" type="matrix" values="0 0 0 0 1 0 0 0 0 1 0 0 0 0 1 7 0 0 0 -3.1" result="m"/><feGaussianBlur in="SourceGraphic" stdDeviation="1.4" result="b"/><feComposite in="m" in2="b" operator="in"/></filter></defs>
<g filter="url(#rough)">
<path d="M635.0 82.1 C635.4 80.9 638.8 79.7 640.3 78.1 C641.9 76.4 642.3 73.9 644.3 72.1 C646.3 70.3 649.6 68.5 652.2 67.5 C654.9 66.5 657.1 66.3 660.2 66.1 C663.3 66.0 667.9 67.4 670.8 66.8 C673.7 66.3 675.4 64.2 677.4 62.8 C679.4 61.5 680.7 59.6 682.7 58.9 C684.7 58.1 687.2 58.0 689.4 58.2 C691.6 58.4 694.0 59.1 696.0 60.2 C698.0 61.3 699.5 63.8 701.3 64.8 C703.1 65.8 705.0 66.3 706.6 66.1 C708.1 66.0 709.2 64.3 710.6 64.2 C711.9 64.0 713.9 64.6 714.6 65.5 C715.2 66.4 715.2 68.6 714.6 69.5 C713.9 70.3 711.9 70.2 710.6 70.8 C709.2 71.3 708.1 72.0 706.6 72.8 C705.0 73.5 703.3 74.8 701.3 75.4 C699.3 76.1 697.1 76.3 694.7 76.7 C692.2 77.2 689.1 77.0 686.7 78.1 C684.3 79.2 682.3 81.6 680.1 83.4 C677.9 85.1 675.2 86.9 673.5 88.7 C671.7 90.4 670.6 92.2 669.5 94.0 C668.4 95.8 667.5 97.5 666.8 99.3 C666.2 101.1 665.9 102.6 665.5 104.6 C665.1 106.6 664.3 109.5 664.2 111.2 C664.1 113.0 665.3 114.3 664.8 115.2 C664.4 116.1 662.7 117.0 661.5 116.5 C660.3 116.1 659.1 113.8 657.5 112.5 C656.0 111.3 653.6 109.2 652.2 109.2 C650.9 109.2 650.7 111.8 649.6 112.5 C648.5 113.3 646.6 114.3 645.6 113.9 C644.6 113.4 644.5 111.4 643.6 109.9 C642.7 108.3 641.0 106.4 640.3 104.6 C639.6 102.8 639.4 101.1 639.6 99.3 C639.9 97.5 641.7 95.8 641.6 94.0 C641.5 92.2 639.6 90.2 639.0 88.7 C638.3 87.1 638.3 85.8 637.7 84.7 C637.0 83.6 634.6 83.2 635.0 82.1Z" fill="#f7b6d2"/>
<path d="M641.6 91.3 C642.1 89.3 644.3 87.4 646.9 86.0 C649.6 84.7 654.0 84.0 657.5 83.4 C661.1 82.7 665.5 81.6 668.1 82.1 C670.8 82.5 673.2 84.3 673.5 86.0 C673.7 87.8 670.8 90.0 669.5 92.7 C668.1 95.3 667.5 99.9 665.5 101.9 C663.5 103.9 660.2 104.6 657.5 104.6 C654.9 104.6 651.8 103.0 649.6 101.9 C647.4 100.8 645.6 99.7 644.3 98.0 C643.0 96.2 641.2 93.3 641.6 91.3Z" fill="#fff" opacity="0.6" filter="url(#soft)"/>
<path d="M615.3 42.0 L610.5 44.0 L607.5 47.5 L605.0 52.2 L607.5 51.6 L609.3 53.8 L609.6 50.0 L612.0 46.0Z" fill="#aa40fc"/>
<path d="M622.2 78.4 L629.3 78.4 L629.3 80.0 L624.4 80.2 L624.4 84.2 L622.2 84.2Z" fill="#8c564b"/>
<path d="M588.2 122.4 L595.2 124.2 L604.5 123.6 L612.8 124.5 L612.8 126.0 L604.5 125.3 L595.0 126.0 L588.2 123.8Z" fill="#98df8a"/>
<path d="M689.0 124.8 L691.0 126.8 L669.5 148.0 L667.2 146.2Z" fill="#279e68"/>
<path d="M622.6 149.3 C623.7 148.8 624.7 149.9 625.5 150.8 C626.2 151.7 626.9 153.2 627.2 154.6 C627.5 156.1 627.5 157.7 627.4 159.4 C627.3 161.1 626.9 163.3 626.4 164.7 C626.0 166.1 625.5 167.0 624.5 167.6 C623.6 168.2 621.7 168.4 620.7 168.1 C619.6 167.8 618.7 167.0 618.3 165.7 C617.8 164.4 617.9 162.4 618.1 160.4 C618.2 158.4 618.3 155.5 619.0 153.7 C619.8 151.8 621.5 149.8 622.6 149.3Z" fill="#c5b0d5"/>
<path d="M618.3 165.7 C619.8 165.0 622.9 166.3 624.5 167.1 C626.1 167.9 626.5 169.4 627.9 170.5 C629.2 171.6 631.2 172.7 632.7 173.8 C634.2 175.0 636.1 176.6 637.0 177.2 C638.0 177.9 637.1 178.1 638.5 177.7 C639.8 177.3 642.9 175.6 645.2 174.8 C647.4 174.0 649.8 173.1 651.9 172.9 C654.0 172.7 655.8 173.5 657.7 173.6 C659.6 173.6 661.5 173.3 663.5 173.1 C665.4 172.9 667.4 172.8 669.2 172.4 C671.0 172.0 673.6 170.4 674.2 170.8 C674.9 171.2 673.9 173.3 673.3 174.8 C672.6 176.3 671.2 178.2 670.2 179.6 C669.2 181.1 668.6 182.5 667.3 183.5 C666.0 184.4 664.7 185.4 662.5 185.4 C660.3 185.4 656.6 184.1 653.8 183.5 C651.1 182.8 648.4 181.5 646.2 181.5 C643.9 181.5 642.6 182.7 640.4 183.5 C638.1 184.3 635.4 185.5 632.7 186.3 C630.0 187.1 626.9 187.9 624.0 188.3 C621.2 188.6 617.5 188.9 615.4 188.3 C613.3 187.6 612.4 186.0 611.5 184.4 C610.7 182.8 610.0 180.3 610.1 178.7 C610.2 177.1 611.1 176.1 612.0 174.8 C612.9 173.5 614.3 172.5 615.4 171.0 C616.4 169.4 616.7 166.3 618.3 165.7Z" fill="#ff9896"/>
<path d="M635.1 158.8 L642.5 165.2 L650.2 169.8 L655.3 172.7 L653.8 174.2 L648.8 171.6 L641.2 166.9 L634.4 159.8Z" fill="#ff9896"/>
<path d="M667.3 183.5 C668.1 183.0 666.7 186.0 666.5 187.3 C666.4 188.6 666.2 189.7 666.3 191.2 C666.5 192.6 667.0 194.0 667.3 196.0 C667.6 197.9 667.9 200.9 668.3 202.7 C668.6 204.5 668.5 205.4 669.4 206.5 C670.4 207.6 672.5 208.6 674.0 209.2 C675.5 209.9 677.6 209.8 678.4 210.4 C679.2 211.0 679.2 212.2 678.8 212.8 C678.4 213.3 677.6 213.6 676.0 213.8 C674.4 213.9 671.2 213.5 669.2 213.8 C667.3 214.0 665.5 214.2 664.4 215.2 C663.3 216.2 663.1 218.6 662.5 220.0 C661.9 221.4 661.4 222.7 660.6 223.8 C659.8 225.0 658.8 226.2 657.7 226.7 C656.6 227.2 654.9 227.2 653.8 226.7 C652.8 226.2 651.7 225.1 651.4 223.8 C651.2 222.6 651.7 220.6 652.4 219.0 C653.1 217.4 654.6 215.5 655.8 214.2 C657.0 212.9 658.7 212.6 659.6 211.3 C660.6 210.1 661.2 208.5 661.5 206.5 C661.9 204.6 661.9 201.7 661.5 199.8 C661.2 197.9 659.6 196.6 659.6 195.0 C659.6 193.4 660.3 192.1 661.5 190.2 C662.8 188.3 666.5 183.9 667.3 183.5Z" fill="#aec7e8"/>
<path d="M638.5 206.5 C639.3 206.4 640.7 209.4 642.3 210.4 C643.9 211.3 646.3 211.7 648.1 212.3 C649.8 212.9 652.2 213.1 652.9 214.2 C653.6 215.4 652.6 217.4 652.4 219.0 C652.2 220.6 652.0 223.5 651.4 223.8 C650.9 224.2 649.9 221.9 649.0 221.0 C648.2 220.0 647.1 219.0 646.2 218.1 C645.2 217.1 644.2 216.2 643.3 215.2 C642.3 214.2 641.3 212.9 640.4 212.3 C639.4 211.7 637.8 212.3 637.5 211.3 C637.2 210.4 637.7 206.7 638.5 206.5Z" fill="#ffbb78"/>
<path d="M638.5 205.6 C638.9 204.5 640.2 202.2 641.3 200.8 C642.5 199.3 643.8 198.0 645.2 196.9 C646.6 195.8 648.2 194.8 650.0 194.0 C651.8 193.2 653.8 192.8 655.8 192.1 C657.7 191.5 660.8 189.7 661.5 190.2 C662.3 190.7 660.0 193.4 660.1 195.0 C660.2 196.6 661.7 197.9 662.0 199.8 C662.3 201.7 662.3 204.6 662.0 206.5 C661.7 208.5 661.1 210.1 660.1 211.3 C659.1 212.6 657.5 212.9 656.2 214.2 C655.0 215.5 654.1 219.3 652.7 219.0 C651.3 218.8 649.8 214.2 648.1 212.8 C646.3 211.4 643.9 211.8 642.3 210.9 C640.7 209.9 639.1 207.9 638.5 207.0 C637.8 206.1 638.0 206.6 638.5 205.6Z" fill="#ff9a40"/>
<path d="M603.8 198.4 C603.6 197.1 604.5 196.8 605.3 196.0 C606.1 195.1 607.5 194.0 608.7 193.1 C609.9 192.2 610.7 191.2 612.5 190.7 C614.3 190.2 617.0 190.6 619.2 190.2 C621.5 189.8 623.7 189.1 626.0 188.3 C628.2 187.5 630.6 186.5 632.7 185.4 C634.8 184.3 636.4 183.0 638.5 181.5 C640.5 180.1 643.3 177.6 645.2 176.7 C647.1 175.8 648.4 175.9 650.0 176.2 C651.6 176.6 653.2 177.8 654.8 178.7 C656.4 179.5 658.2 180.7 659.6 181.5 C661.1 182.3 662.2 183.1 663.5 183.5 C664.7 183.8 666.8 182.8 667.3 183.5 C667.8 184.1 667.3 186.2 666.3 187.3 C665.4 188.4 663.3 189.4 661.5 190.2 C659.8 191.0 657.7 191.5 655.8 192.1 C653.8 192.8 651.8 193.2 650.0 194.0 C648.2 194.8 646.6 195.8 645.2 196.9 C643.8 198.0 642.5 199.3 641.3 200.8 C640.2 202.2 639.3 203.8 638.5 205.6 C637.7 207.3 637.3 209.7 636.5 211.3 C635.8 212.9 634.8 214.1 634.1 215.2 C633.5 216.3 633.3 217.0 632.7 218.1 C632.1 219.2 631.6 220.5 630.8 221.9 C630.0 223.4 628.7 225.3 627.9 226.7 C627.1 228.2 626.6 229.5 626.0 230.6 C625.3 231.6 624.9 232.5 624.0 233.0 C623.2 233.5 621.8 233.7 620.7 233.5 C619.6 233.2 618.3 232.3 617.3 231.5 C616.3 230.7 615.4 229.9 614.4 228.7 C613.5 227.4 612.3 225.6 611.5 223.8 C610.8 222.1 610.4 220.0 610.1 218.1 C609.8 216.2 609.8 214.1 609.6 212.3 C609.5 210.5 609.6 208.9 609.1 207.5 C608.7 206.1 607.6 205.2 606.7 203.7 C605.8 202.1 604.1 199.6 603.8 198.4Z" fill="#ff7f0e"/>
<path d="M616.3 187.3 C618.1 185.8 621.5 183.2 624.0 182.0 C626.6 180.8 629.0 180.3 631.7 180.1 C634.5 179.9 638.2 180.2 640.4 180.8 C642.5 181.3 645.0 182.4 644.7 183.5 C644.4 184.6 641.1 186.2 638.5 187.3 C635.8 188.4 632.1 189.4 628.8 190.2 C625.6 191.0 621.8 192.0 619.2 192.1 C616.7 192.3 613.9 192.0 613.5 191.2 C613.0 190.4 614.6 188.8 616.3 187.3Z" fill="#fff" opacity="0.95" filter="url(#soft)"/>
<path d="M641.3 200.8 C642.5 199.0 643.4 197.9 645.2 196.9 C647.0 196.0 649.8 195.0 651.9 195.0 C654.0 195.0 656.1 195.6 657.7 196.9 C659.3 198.2 661.2 200.4 661.5 202.7 C661.9 204.9 660.9 208.8 659.6 210.4 C658.3 212.0 655.8 212.1 653.8 212.3 C651.9 212.5 650.0 211.7 648.1 211.3 C646.2 211.0 643.9 211.0 642.3 210.4 C640.7 209.7 638.6 209.1 638.5 207.5 C638.3 205.9 640.2 202.5 641.3 200.8Z" fill="#fff" opacity="0.95" filter="url(#soft)"/>
<path d="M644.2 169.8 L641.3 169.5 L636.1 178.2 L637.5 178.8 L641.2 172.9Z" fill="#b5bd61"/>
<path d="M674.8 171.4 L682.8 169.4 L690.8 168.6 L690.8 169.4 L682.8 170.2 L675.1 172.4Z" fill="#c49c94"/>
<path d="M685.2 170.2 C685.5 169.4 688.2 169.2 689.4 170.2 C690.6 171.2 691.2 174.3 692.3 176.1 C693.5 178.0 694.6 180.1 696.3 181.4 C698.0 182.8 700.8 183.2 702.7 184.1 C704.6 185.0 707.5 185.8 707.7 187.0 C708.0 188.2 705.8 190.1 704.3 191.2 C702.8 192.4 700.2 194.1 698.7 193.9 C697.2 193.7 695.8 191.5 695.1 189.9 C694.4 188.4 695.2 186.4 694.5 184.6 C693.7 182.9 691.9 181.0 690.8 179.3 C689.6 177.7 688.4 176.2 687.4 174.7 C686.5 173.2 684.9 170.9 685.2 170.2Z" fill="#1f77b4"/>
<path d="M718.8 159.9 C719.3 159.3 722.0 159.0 723.5 157.6 C725.0 156.2 726.6 153.5 727.6 151.7 C728.6 149.9 728.5 148.3 729.4 147.0 C730.3 145.7 731.5 144.3 732.9 144.1 C734.3 143.9 736.0 145.7 737.6 145.8 C739.2 145.9 740.3 145.2 742.3 144.7 C744.3 144.1 747.4 143.5 749.4 142.3 C751.3 141.1 752.3 138.8 754.1 137.6 C755.8 136.4 759.3 136.4 759.9 135.3 C760.5 134.1 758.3 132.3 757.6 130.6 C756.9 128.8 756.8 126.1 755.8 124.7 C754.8 123.2 752.2 122.7 751.7 121.7 C751.2 120.8 752.1 119.4 752.9 118.8 C753.7 118.2 755.2 117.7 756.4 118.2 C757.6 118.7 759.0 120.3 759.9 121.7 C760.8 123.2 760.7 125.2 761.7 127.0 C762.7 128.9 763.9 131.7 765.8 132.9 C767.7 134.1 770.5 134.1 772.9 134.1 C775.2 134.1 778.0 132.3 779.9 132.9 C781.8 133.5 783.2 135.8 784.0 137.6 C784.8 139.4 785.1 141.5 784.6 143.5 C784.1 145.4 782.5 147.6 781.1 149.4 C779.7 151.1 777.9 152.7 776.4 154.1 C774.8 155.4 773.2 156.2 771.7 157.6 C770.1 159.0 768.4 160.7 767.0 162.3 C765.6 163.8 764.8 166.6 763.5 167.0 C762.1 167.4 760.1 165.6 758.8 164.6 C757.4 163.7 756.6 161.7 755.2 161.1 C753.9 160.5 752.1 160.6 750.5 161.1 C749.0 161.6 747.5 163.7 745.8 164.0 C744.2 164.4 741.5 164.0 740.5 163.5 C739.6 162.9 739.3 161.5 740.0 160.5 C740.6 159.5 744.7 158.5 744.7 157.6 C744.7 156.7 741.5 155.6 740.0 155.2 C738.4 154.8 736.8 155.0 735.3 155.2 C733.7 155.4 732.1 155.6 730.6 156.4 C729.0 157.2 727.5 159.1 725.9 159.9 C724.2 160.7 721.7 161.1 720.6 161.1 C719.4 161.1 718.3 160.5 718.8 159.9Z" fill="#c49c94"/>
<path d="M735.3 147.0 C736.2 145.3 741.7 145.4 744.7 145.2 C747.6 145.0 750.7 144.9 752.9 145.8 C755.0 146.7 757.2 148.4 757.6 150.5 C758.0 152.7 757.0 157.2 755.2 158.8 C753.5 160.3 749.7 160.5 747.0 159.9 C744.3 159.3 740.7 157.4 738.8 155.2 C736.8 153.1 734.3 148.7 735.3 147.0Z" fill="#fff" opacity="0.95" filter="url(#soft)"/>
<path d="M740.0 177.6 C740.0 177.0 744.8 174.2 747.0 172.9 C749.2 171.5 751.1 170.6 752.9 169.3 C754.6 168.1 756.4 165.7 757.6 165.2 C758.8 164.7 759.9 165.5 760.2 166.4 C760.4 167.3 760.0 169.2 759.0 170.5 C758.0 171.8 756.1 173.1 754.1 174.0 C752.1 175.0 749.4 175.4 747.0 176.0 C744.7 176.6 740.0 178.1 740.0 177.6Z" fill="#d62728"/>
<path d="M765.2 166.4 C766.0 164.8 769.0 161.2 770.5 159.9 C772.0 158.6 773.4 157.5 774.3 158.5 C775.1 159.5 775.0 163.4 775.4 165.8 C775.9 168.2 776.0 170.9 777.2 172.9 C778.4 174.8 781.8 176.3 782.5 177.6 C783.2 178.8 782.1 179.5 781.3 180.1 C780.5 180.8 778.4 180.2 777.8 181.3 C777.2 182.5 777.6 184.8 777.8 187.0 C778.0 189.1 779.0 192.3 779.0 194.0 C778.9 195.7 778.2 197.2 777.6 197.2 C776.9 197.2 775.7 195.7 775.2 194.0 C774.7 192.3 774.7 189.3 774.4 187.0 C774.1 184.6 773.9 182.3 773.2 179.9 C772.5 177.6 771.5 174.6 770.3 172.9 C769.0 171.1 766.6 170.6 765.8 169.6 C765.0 168.5 764.4 168.0 765.2 166.4Z" fill="#17becf"/>
<path d="M717.6 206.2 L719.0 206.0 L720.2 207.6 L719.6 208.8 L718.0 208.2Z" fill="#e377c2"/>
</g>
<path d="M636.9 169.8h0.9v0.9h-0.9zM643.8 174.6h0.9v0.9h-0.9zM641.6 174.1h0.9v0.9h-0.9zM613.2 163.2h0.9v0.9h-0.9zM649.7 167.6h0.9v0.9h-0.9zM648.0 154.7h0.9v0.9h-0.9zM630.8 157.9h0.9v0.9h-0.9zM633.8 165.8h0.9v0.9h-0.9zM612.5 157.2h0.9v0.9h-0.9zM623.2 174.0h0.9v0.9h-0.9zM642.6 155.8h0.9v0.9h-0.9zM643.9 155.3h0.9v0.9h-0.9zM636.7 155.0h0.9v0.9h-0.9zM612.1 172.9h0.9v0.9h-0.9zM620.4 157.2h0.9v0.9h-0.9zM651.3 172.9h0.9v0.9h-0.9zM623.6 175.1h0.9v0.9h-0.9zM633.6 168.3h0.9v0.9h-0.9zM620.2 174.6h0.9v0.9h-0.9zM639.6 175.2h0.9v0.9h-0.9zM647.7 159.2h0.9v0.9h-0.9zM626.4 156.0h0.9v0.9h-0.9zM617.8 153.6h0.9v0.9h-0.9zM624.1 166.5h0.9v0.9h-0.9zM612.1 168.3h0.9v0.9h-0.9zM625.5 159.4h0.9v0.9h-0.9zM644.7 163.5h0.9v0.9h-0.9zM624.6 163.5h0.9v0.9h-0.9zM640.2 153.4h0.9v0.9h-0.9zM651.0 152.5h0.9v0.9h-0.9zM642.0 172.3h0.9v0.9h-0.9zM612.7 170.9h0.9v0.9h-0.9zM626.6 165.9h0.9v0.9h-0.9zM612.4 153.1h0.9v0.9h-0.9zM619.2 174.9h0.9v0.9h-0.9zM619.9 170.1h0.9v0.9h-0.9zM649.2 174.6h0.9v0.9h-0.9zM625.8 160.5h0.9v0.9h-0.9zM633.0 170.6h0.9v0.9h-0.9zM616.3 170.0h0.9v0.9h-0.9zM643.9 172.6h0.9v0.9h-0.9zM613.5 174.7h0.9v0.9h-0.9zM615.6 160.2h0.9v0.9h-0.9zM636.4 174.0h0.9v0.9h-0.9zM625.6 174.2h0.9v0.9h-0.9zM633.8 159.5h0.9v0.9h-0.9zM624.7 156.3h0.9v0.9h-0.9zM615.1 155.6h0.9v0.9h-0.9zM639.6 175.9h0.9v0.9h-0.9zM618.5 153.2h0.9v0.9h-0.9zM651.5 164.8h0.9v0.9h-0.9zM628.2 157.7h0.9v0.9h-0.9zM635.8 171.8h0.9v0.9h-0.9zM630.2 162.1h0.9v0.9h-0.9zM614.2 174.0h0.9v0.9h-0.9zM613.3 163.8h0.9v0.9h-0.9zM645.5 155.1h0.9v0.9h-0.9zM641.3 174.8h0.9v0.9h-0.9zM637.2 170.9h0.9v0.9h-0.9zM616.3 162.4h0.9v0.9h-0.9zM618.0 172.3h0.9v0.9h-0.9zM623.8 162.9h0.9v0.9h-0.9zM652.0 172.5h0.9v0.9h-0.9zM651.0 162.9h0.9v0.9h-0.9zM631.5 169.5h0.9v0.9h-0.9zM631.2 159.0h0.9v0.9h-0.9zM628.2 155.5h0.9v0.9h-0.9zM627.1 175.7h0.9v0.9h-0.9zM650.4 167.0h0.9v0.9h-0.9zM632.0 160.1h0.9v0.9h-0.9z" fill="#ff7f0e"/>
<path d="M605.6 182.0h0.9v0.9h-0.9zM618.1 195.1h0.9v0.9h-0.9zM610.5 193.3h0.9v0.9h-0.9zM617.9 191.3h0.9v0.9h-0.9zM616.0 192.7h0.9v0.9h-0.9zM610.5 191.5h0.9v0.9h-0.9zM609.1 186.7h0.9v0.9h-0.9zM617.9 191.2h0.9v0.9h-0.9zM609.3 196.8h0.9v0.9h-0.9zM615.7 188.8h0.9v0.9h-0.9zM604.2 188.0h0.9v0.9h-0.9zM608.5 190.8h0.9v0.9h-0.9zM612.3 194.0h0.9v0.9h-0.9zM615.7 193.5h0.9v0.9h-0.9zM610.3 190.2h0.9v0.9h-0.9zM617.3 194.2h0.9v0.9h-0.9zM610.3 194.5h0.9v0.9h-0.9zM619.7 191.1h0.9v0.9h-0.9zM621.6 197.0h0.9v0.9h-0.9zM613.3 187.6h0.9v0.9h-0.9zM607.0 194.4h0.9v0.9h-0.9zM620.9 186.5h0.9v0.9h-0.9zM616.4 191.8h0.9v0.9h-0.9zM617.1 179.8h0.9v0.9h-0.9zM618.0 188.8h0.9v0.9h-0.9zM616.0 185.3h0.9v0.9h-0.9zM615.2 193.0h0.9v0.9h-0.9zM615.5 191.8h0.9v0.9h-0.9zM604.5 179.5h0.9v0.9h-0.9zM611.9 190.3h0.9v0.9h-0.9zM607.9 191.1h0.9v0.9h-0.9zM615.4 176.9h0.9v0.9h-0.9zM612.5 181.0h0.9v0.9h-0.9zM605.0 178.9h0.9v0.9h-0.9zM609.7 180.0h0.9v0.9h-0.9zM607.5 176.8h0.9v0.9h-0.9zM612.4 184.4h0.9v0.9h-0.9zM615.0 189.0h0.9v0.9h-0.9zM608.3 195.9h0.9v0.9h-0.9zM604.0 184.9h0.9v0.9h-0.9z" fill="#ff7f0e"/>
<path d="M687.0 180.7h0.9v0.9h-0.9zM684.1 191.6h0.9v0.9h-0.9zM688.7 170.9h0.9v0.9h-0.9zM693.0 172.5h0.9v0.9h-0.9zM691.8 178.8h0.9v0.9h-0.9zM692.5 194.9h0.9v0.9h-0.9zM696.7 180.9h0.9v0.9h-0.9zM696.6 186.7h0.9v0.9h-0.9zM688.6 173.7h0.9v0.9h-0.9zM692.7 184.7h0.9v0.9h-0.9zM699.2 195.2h0.9v0.9h-0.9zM693.0 179.1h0.9v0.9h-0.9zM698.1 170.0h0.9v0.9h-0.9zM683.9 184.7h0.9v0.9h-0.9zM693.1 173.7h0.9v0.9h-0.9zM693.3 193.2h0.9v0.9h-0.9zM688.8 181.2h0.9v0.9h-0.9zM686.1 177.6h0.9v0.9h-0.9zM699.5 179.9h0.9v0.9h-0.9zM699.3 193.8h0.9v0.9h-0.9zM692.7 176.8h0.9v0.9h-0.9zM699.7 182.9h0.9v0.9h-0.9zM689.5 178.3h0.9v0.9h-0.9zM699.7 182.8h0.9v0.9h-0.9zM687.2 182.4h0.9v0.9h-0.9z" fill="#ff7f0e"/>
<path d="M653.2 214.7h0.9v0.9h-0.9zM661.5 204.8h0.9v0.9h-0.9zM670.3 220.8h0.9v0.9h-0.9zM650.3 212.0h0.9v0.9h-0.9zM657.1 224.1h0.9v0.9h-0.9zM670.3 203.4h0.9v0.9h-0.9zM657.0 200.6h0.9v0.9h-0.9zM675.7 204.8h0.9v0.9h-0.9zM665.8 210.2h0.9v0.9h-0.9zM666.8 214.1h0.9v0.9h-0.9zM669.3 199.5h0.9v0.9h-0.9zM669.8 205.0h0.9v0.9h-0.9zM663.9 206.1h0.9v0.9h-0.9zM657.7 211.9h0.9v0.9h-0.9zM662.1 206.8h0.9v0.9h-0.9zM669.4 213.7h0.9v0.9h-0.9zM650.9 203.6h0.9v0.9h-0.9zM661.8 223.5h0.9v0.9h-0.9zM673.1 212.4h0.9v0.9h-0.9zM650.4 219.4h0.9v0.9h-0.9zM661.1 213.3h0.9v0.9h-0.9zM668.4 215.0h0.9v0.9h-0.9zM662.5 223.4h0.9v0.9h-0.9zM660.0 207.8h0.9v0.9h-0.9zM672.1 201.9h0.9v0.9h-0.9zM657.7 220.9h0.9v0.9h-0.9zM651.7 221.1h0.9v0.9h-0.9zM668.1 209.0h0.9v0.9h-0.9zM657.4 219.4h0.9v0.9h-0.9zM673.7 200.3h0.9v0.9h-0.9z" fill="#ff7f0e"/>
<path d="M666.6 91.8h1.1v1.1h-1.1zM667.9 79.2h1.1v1.1h-1.1zM645.8 94.0h1.1v1.1h-1.1zM688.0 64.0h1.1v1.1h-1.1zM650.7 107.5h1.1v1.1h-1.1zM686.7 98.5h1.1v1.1h-1.1zM637.6 101.9h1.1v1.1h-1.1zM698.6 117.9h1.1v1.1h-1.1zM680.9 62.8h1.1v1.1h-1.1zM689.9 72.7h1.1v1.1h-1.1zM677.3 115.2h1.1v1.1h-1.1zM681.6 67.8h1.1v1.1h-1.1zM654.7 113.2h1.1v1.1h-1.1zM645.6 95.4h1.1v1.1h-1.1zM662.5 69.3h1.1v1.1h-1.1zM675.8 62.5h1.1v1.1h-1.1zM642.9 82.0h1.1v1.1h-1.1zM640.6 63.3h1.1v1.1h-1.1z" fill="#b5bd61"/>
<path d="M738.6 143.3h0.9v0.9h-0.9zM743.2 127.5h0.9v0.9h-0.9zM736.5 132.2h0.9v0.9h-0.9zM739.0 136.7h0.9v0.9h-0.9zM744.1 133.7h0.9v0.9h-0.9zM730.8 142.1h0.9v0.9h-0.9zM732.3 140.4h0.9v0.9h-0.9zM737.6 147.7h0.9v0.9h-0.9zM738.3 140.1h0.9v0.9h-0.9zM733.9 138.3h0.9v0.9h-0.9zM733.8 143.5h0.9v0.9h-0.9zM737.8 127.5h0.9v0.9h-0.9zM733.5 133.7h0.9v0.9h-0.9zM741.1 128.7h0.9v0.9h-0.9z" fill="#c49c94"/>
<path d="M772.8 179.8h0.9v0.9h-0.9zM761.5 180.0h0.9v0.9h-0.9zM761.6 170.2h0.9v0.9h-0.9zM770.7 172.3h0.9v0.9h-0.9zM775.8 176.6h0.9v0.9h-0.9zM765.8 182.3h0.9v0.9h-0.9zM760.5 181.1h0.9v0.9h-0.9zM761.0 170.7h0.9v0.9h-0.9zM777.1 180.3h0.9v0.9h-0.9zM764.0 170.1h0.9v0.9h-0.9zM777.5 180.0h0.9v0.9h-0.9zM774.8 170.5h0.9v0.9h-0.9zM771.2 174.4h0.9v0.9h-0.9zM764.2 174.0h0.9v0.9h-0.9zM771.0 174.3h0.9v0.9h-0.9zM766.9 170.5h0.9v0.9h-0.9zM775.0 179.7h0.9v0.9h-0.9zM774.5 175.8h0.9v0.9h-0.9zM775.3 177.3h0.9v0.9h-0.9zM770.7 178.3h0.9v0.9h-0.9z" fill="#17becf"/>
<path d="M657.8 109.5h0.9v0.9h-0.9zM642.3 104.5h0.9v0.9h-0.9zM644.9 104.6h0.9v0.9h-0.9zM661.3 110.7h0.9v0.9h-0.9zM658.2 104.0h0.9v0.9h-0.9zM651.3 116.5h0.9v0.9h-0.9zM654.9 110.0h0.9v0.9h-0.9zM651.2 105.4h0.9v0.9h-0.9zM643.7 106.2h0.9v0.9h-0.9zM649.0 109.4h0.9v0.9h-0.9zM661.1 106.1h0.9v0.9h-0.9zM646.1 107.9h0.9v0.9h-0.9zM643.9 108.0h0.9v0.9h-0.9zM645.6 110.7h0.9v0.9h-0.9z" fill="#f7b6d2"/>
<rect x="578.7" y="33.9" width="215.29999999999995" height="209.79999999999998" fill="none" stroke="#111" stroke-width="1.6" />
<text x="686" y="260" font-size="13.3" text-anchor="middle" font-weight="normal" fill="#111" >UMAP1</text>
<text transform="translate(568,138.5) rotate(-90)" font-size="13.3" text-anchor="middle" fill="#111">UMAP2</text>
<circle cx="807.6" cy="77.0" r="3.3" fill="#1f77b4"/>
<text x="816.4" y="81.1" font-size="12.2" text-anchor="start" font-weight="normal" fill="#111" >B cell</text>
<circle cx="807.6" cy="94.6" r="3.3" fill="#ff7f0e"/>
<text x="816.4" y="98.69999999999999" font-size="12.2" text-anchor="start" font-weight="normal" fill="#111" >CD8+ T cell</text>
<circle cx="807.6" cy="112.2" r="3.3" fill="#279e68"/>
<text x="816.4" y="116.3" font-size="12.2" text-anchor="start" font-weight="normal" fill="#111" >Cycling</text>
<circle cx="807.6" cy="129.8" r="3.3" fill="#d62728"/>
<text x="816.4" y="133.9" font-size="12.2" text-anchor="start" font-weight="normal" fill="#111" >DC</text>
<circle cx="807.6" cy="147.4" r="3.3" fill="#aa40fc"/>
<text x="816.4" y="151.5" font-size="12.2" text-anchor="start" font-weight="normal" fill="#111" >Endothelial</text>
<circle cx="807.6" cy="165.0" r="3.3" fill="#8c564b"/>
<text x="816.4" y="169.1" font-size="12.2" text-anchor="start" font-weight="normal" fill="#111" >Fibroblast</text>
<circle cx="807.6" cy="182.6" r="3.3" fill="#e377c2"/>
<text x="816.4" y="186.70000000000002" font-size="12.2" text-anchor="start" font-weight="normal" fill="#111" >Mast cell</text>
<circle cx="807.6" cy="200.2" r="3.3" fill="#b5bd61"/>
<text x="816.4" y="204.3" font-size="12.2" text-anchor="start" font-weight="normal" fill="#111" >Misc/Undetermined</text>
<circle cx="950" cy="77.0" r="3.3" fill="#17becf"/>
<text x="958.3" y="81.1" font-size="12.2" text-anchor="start" font-weight="normal" fill="#111" >Monocyte</text>
<circle cx="950" cy="94.6" r="3.3" fill="#aec7e8"/>
<text x="958.3" y="98.69999999999999" font-size="12.2" text-anchor="start" font-weight="normal" fill="#111" >NK</text>
<circle cx="950" cy="112.2" r="3.3" fill="#ffbb78"/>
<text x="958.3" y="116.3" font-size="12.2" text-anchor="start" font-weight="normal" fill="#111" >NKT</text>
<circle cx="950" cy="129.8" r="3.3" fill="#98df8a"/>
<text x="958.3" y="133.9" font-size="12.2" text-anchor="start" font-weight="normal" fill="#111" >Plasma cell</text>
<circle cx="950" cy="147.4" r="3.3" fill="#ff9896"/>
<text x="958.3" y="151.5" font-size="12.2" text-anchor="start" font-weight="normal" fill="#111" >T-Helper</text>
<circle cx="950" cy="165.0" r="3.3" fill="#c5b0d5"/>
<text x="958.3" y="169.1" font-size="12.2" text-anchor="start" font-weight="normal" fill="#111" >T-Reg</text>
<circle cx="950" cy="182.6" r="3.3" fill="#c49c94"/>
<text x="958.3" y="186.70000000000002" font-size="12.2" text-anchor="start" font-weight="normal" fill="#111" >TAM</text>
<circle cx="950" cy="200.2" r="3.3" fill="#f7b6d2"/>
<text x="958.3" y="204.3" font-size="12.2" text-anchor="start" font-weight="normal" fill="#111" >Tumor</text>
<defs><linearGradient id="cb" x1="0" y1="1" x2="0" y2="0"><stop offset="0" stop-color="#440154"/><stop offset="0.125" stop-color="#472d7b"/><stop offset="0.25" stop-color="#3b528b"/><stop offset="0.375" stop-color="#2c728e"/><stop offset="0.5" stop-color="#21918c"/><stop offset="0.625" stop-color="#28ae80"/><stop offset="0.75" stop-color="#5ec962"/><stop offset="0.875" stop-color="#addc30"/><stop offset="1" stop-color="#fde725"/></linearGradient><clipPath id="tc"><path d="M630.3 81.1 C630.1 80.4 634.5 82.0 635.6 81.1 C636.7 80.1 635.9 76.5 636.9 75.4 C637.9 74.4 640.3 75.4 641.7 74.6 C643.1 73.8 643.8 71.7 645.3 70.6 C646.7 69.5 648.6 68.5 650.6 67.8 C652.5 67.1 654.7 66.5 656.7 66.6 C658.8 66.7 661.0 67.7 662.9 68.2 C664.8 68.7 666.3 69.9 668.2 69.8 C670.1 69.7 672.8 68.7 674.4 67.4 C676.0 66.0 676.6 63.2 677.9 61.8 C679.2 60.3 680.7 59.5 682.3 58.9 C683.9 58.3 685.7 58.1 687.6 58.1 C689.5 58.2 692.0 58.6 693.8 59.3 C695.6 60.1 696.9 61.4 698.2 62.6 C699.5 63.7 700.4 65.2 701.7 66.2 C703.0 67.1 704.8 68.4 706.1 68.2 C707.5 68.0 708.4 65.5 709.7 65.0 C710.9 64.4 712.8 64.4 713.6 65.0 C714.5 65.5 715.2 67.3 715.0 68.2 C714.7 69.1 713.5 69.7 712.3 70.2 C711.1 70.7 709.1 70.4 707.9 71.0 C706.7 71.6 706.4 73.0 705.3 73.8 C704.1 74.7 702.5 75.8 700.8 76.2 C699.2 76.7 697.2 76.2 695.6 76.6 C693.9 77.0 692.6 77.8 691.1 78.7 C689.7 79.5 688.1 80.9 686.7 81.9 C685.4 82.8 684.4 83.9 683.2 84.3 C682.0 84.7 680.8 83.9 679.7 84.3 C678.5 84.7 677.5 85.9 676.1 86.7 C674.8 87.5 672.8 87.9 671.7 89.1 C670.7 90.3 670.7 92.9 670.0 93.9 C669.2 95.0 668.1 94.7 667.3 95.5 C666.6 96.3 665.9 97.7 665.6 98.8 C665.3 99.8 666.3 100.9 665.6 102.0 C664.8 103.1 661.4 103.5 661.1 105.2 C660.9 106.9 663.3 110.7 663.8 112.4 C664.3 114.2 664.7 115.0 664.2 115.7 C663.8 116.3 662.1 116.9 661.1 116.5 C660.2 116.1 659.7 114.2 658.5 113.2 C657.3 112.3 655.9 111.4 654.1 110.8 C652.3 110.3 649.4 109.5 647.9 110.0 C646.4 110.6 646.0 113.5 645.3 114.0 C644.5 114.6 643.9 114.2 643.5 113.2 C643.1 112.3 643.2 109.9 642.6 108.4 C642.0 106.9 640.6 105.7 640.0 104.4 C639.4 103.1 638.9 101.7 639.1 100.4 C639.2 99.0 640.4 97.7 640.9 96.3 C641.3 95.0 642.0 93.5 641.7 92.3 C641.4 91.1 640.0 90.3 639.1 89.1 C638.2 87.9 637.9 86.4 636.4 85.1 C635.0 83.7 630.4 81.7 630.3 81.1Z"/></clipPath><filter id="bl3"><feGaussianBlur stdDeviation="3"/></filter><filter id="spk" x="0" y="0" width="100%" height="100%"><feTurbulence type="fractalNoise" baseFrequency="0.8" numOctaves="1" seed="4" result="n"/><feColorMatrix in="n" type="matrix" values="0 0 0 0 1 0 0 0 0 1 0 0 0 0 1 8 0 0 0 -4.0" result="m"/><feComposite in="m" in2="SourceGraphic" operator="in"/></filter><filter id="spf" x="0" y="0" width="100%" height="100%"><feTurbulence type="fractalNoise" baseFrequency="1.1" numOctaves="1" seed="33" result="n"/><feColorMatrix in="n" type="matrix" values="0 0 0 0 1 0 0 0 0 1 0 0 0 0 1 9 0 0 0 -5.0" result="m"/><feComposite in="m" in2="SourceGraphic" operator="in"/></filter><filter id="spg" x="0" y="0" width="100%" height="100%"><feTurbulence type="fractalNoise" baseFrequency="0.9" numOctaves="1" seed="21" result="n"/><feColorMatrix in="n" type="matrix" values="0 0 0 0 0.5 0 0 0 0 0.85 0 0 0 0 0.3 0 9 0 0 -4.7" result="m"/><feComposite in="m" in2="SourceGraphic" operator="in"/></filter></defs>
<g transform="translate(-603.34,575.07) scale(1.2111,1.3281)">
<g filter="url(#rough)">
<path d="M630.3 81.1 C630.1 80.4 634.5 82.0 635.6 81.1 C636.7 80.1 635.9 76.5 636.9 75.4 C637.9 74.4 640.3 75.4 641.7 74.6 C643.1 73.8 643.8 71.7 645.3 70.6 C646.7 69.5 648.6 68.5 650.6 67.8 C652.5 67.1 654.7 66.5 656.7 66.6 C658.8 66.7 661.0 67.7 662.9 68.2 C664.8 68.7 666.3 69.9 668.2 69.8 C670.1 69.7 672.8 68.7 674.4 67.4 C676.0 66.0 676.6 63.2 677.9 61.8 C679.2 60.3 680.7 59.5 682.3 58.9 C683.9 58.3 685.7 58.1 687.6 58.1 C689.5 58.2 692.0 58.6 693.8 59.3 C695.6 60.1 696.9 61.4 698.2 62.6 C699.5 63.7 700.4 65.2 701.7 66.2 C703.0 67.1 704.8 68.4 706.1 68.2 C707.5 68.0 708.4 65.5 709.7 65.0 C710.9 64.4 712.8 64.4 713.6 65.0 C714.5 65.5 715.2 67.3 715.0 68.2 C714.7 69.1 713.5 69.7 712.3 70.2 C711.1 70.7 709.1 70.4 707.9 71.0 C706.7 71.6 706.4 73.0 705.3 73.8 C704.1 74.7 702.5 75.8 700.8 76.2 C699.2 76.7 697.2 76.2 695.6 76.6 C693.9 77.0 692.6 77.8 691.1 78.7 C689.7 79.5 688.1 80.9 686.7 81.9 C685.4 82.8 684.4 83.9 683.2 84.3 C682.0 84.7 680.8 83.9 679.7 84.3 C678.5 84.7 677.5 85.9 676.1 86.7 C674.8 87.5 672.8 87.9 671.7 89.1 C670.7 90.3 670.7 92.9 670.0 93.9 C669.2 95.0 668.1 94.7 667.3 95.5 C666.6 96.3 665.9 97.7 665.6 98.8 C665.3 99.8 666.3 100.9 665.6 102.0 C664.8 103.1 661.4 103.5 661.1 105.2 C660.9 106.9 663.3 110.7 663.8 112.4 C664.3 114.2 664.7 115.0 664.2 115.7 C663.8 116.3 662.1 116.9 661.1 116.5 C660.2 116.1 659.7 114.2 658.5 113.2 C657.3 112.3 655.9 111.4 654.1 110.8 C652.3 110.3 649.4 109.5 647.9 110.0 C646.4 110.6 646.0 113.5 645.3 114.0 C644.5 114.6 643.9 114.2 643.5 113.2 C643.1 112.3 643.2 109.9 642.6 108.4 C642.0 106.9 640.6 105.7 640.0 104.4 C639.4 103.1 638.9 101.7 639.1 100.4 C639.2 99.0 640.4 97.7 640.9 96.3 C641.3 95.0 642.0 93.5 641.7 92.3 C641.4 91.1 640.0 90.3 639.1 89.1 C638.2 87.9 637.9 86.4 636.4 85.1 C635.0 83.7 630.4 81.7 630.3 81.1Z" fill="#440154"/>
<g clip-path="url(#tc)"><ellipse cx="653" cy="79" rx="17" ry="12" fill="#2e6c8e" filter="url(#bl3)"/><ellipse cx="671" cy="77" rx="9" ry="8" fill="#2e7a8e" opacity="0.75" filter="url(#bl3)"/><ellipse cx="690" cy="68" rx="14" ry="9" fill="#2f7f72" opacity="0.34" filter="url(#bl3)"/><ellipse cx="711.9" cy="67.4" rx="4.5" ry="4" fill="#8ed645" opacity="0.95"/><path d="M645.3 89.1 C646.6 87.9 650.4 87.0 653.2 86.7 C656.0 86.4 659.7 86.8 662.0 87.5 C664.4 88.2 666.7 89.4 667.3 90.7 C667.9 92.1 666.9 94.3 665.6 95.5 C664.2 96.8 661.9 97.7 659.4 98.0 C656.9 98.2 652.9 97.8 650.6 97.2 C648.2 96.5 646.1 95.3 645.3 93.9 C644.4 92.6 643.9 90.3 645.3 89.1Z" fill="#fff" opacity="0.95" filter="url(#soft)"/><rect x="672" y="52" width="45" height="36" fill="#000" filter="url(#spg)"/><rect x="630" y="52" width="46" height="70" fill="#fff" filter="url(#spk)" opacity="0.45"/></g>
<path d="M615.3 42.0 L610.5 44.0 L607.5 47.5 L605.0 52.2 L607.5 51.6 L609.3 53.8 L609.6 50.0 L612.0 46.0Z" fill="#440154"/>
<path d="M622.2 78.4 L629.3 78.4 L629.3 80.0 L624.4 80.2 L624.4 84.2 L622.2 84.2Z" fill="#440154"/>
<path d="M588.2 122.4 L595.2 124.2 L604.5 123.6 L612.8 124.5 L612.8 126.0 L604.5 125.3 L595.0 126.0 L588.2 123.8Z" fill="#440154"/>
<path d="M689.0 124.8 L691.0 126.8 L669.5 148.0 L667.2 146.2Z" fill="#440154"/>
<path d="M622.6 149.3 C623.7 148.8 624.7 149.9 625.5 150.8 C626.2 151.7 626.9 153.2 627.2 154.6 C627.5 156.1 627.5 157.7 627.4 159.4 C627.3 161.1 626.9 163.3 626.4 164.7 C626.0 166.1 625.5 167.0 624.5 167.6 C623.6 168.2 621.7 168.4 620.7 168.1 C619.6 167.8 618.7 167.0 618.3 165.7 C617.8 164.4 617.9 162.4 618.1 160.4 C618.2 158.4 618.3 155.5 619.0 153.7 C619.8 151.8 621.5 149.8 622.6 149.3Z" fill="#440154"/>
<path d="M618.3 165.7 C619.8 165.0 622.9 166.3 624.5 167.1 C626.1 167.9 626.5 169.4 627.9 170.5 C629.2 171.6 631.2 172.7 632.7 173.8 C634.2 175.0 636.1 176.6 637.0 177.2 C638.0 177.9 637.1 178.1 638.5 177.7 C639.8 177.3 642.9 175.6 645.2 174.8 C647.4 174.0 649.8 173.1 651.9 172.9 C654.0 172.7 655.8 173.5 657.7 173.6 C659.6 173.6 661.5 173.3 663.5 173.1 C665.4 172.9 667.4 172.8 669.2 172.4 C671.0 172.0 673.6 170.4 674.2 170.8 C674.9 171.2 673.9 173.3 673.3 174.8 C672.6 176.3 671.2 178.2 670.2 179.6 C669.2 181.1 668.6 182.5 667.3 183.5 C666.0 184.4 664.7 185.4 662.5 185.4 C660.3 185.4 656.6 184.1 653.8 183.5 C651.1 182.8 648.4 181.5 646.2 181.5 C643.9 181.5 642.6 182.7 640.4 183.5 C638.1 184.3 635.4 185.5 632.7 186.3 C630.0 187.1 626.9 187.9 624.0 188.3 C621.2 188.6 617.5 188.9 615.4 188.3 C613.3 187.6 612.4 186.0 611.5 184.4 C610.7 182.8 610.0 180.3 610.1 178.7 C610.2 177.1 611.1 176.1 612.0 174.8 C612.9 173.5 614.3 172.5 615.4 171.0 C616.4 169.4 616.7 166.3 618.3 165.7Z" fill="#440154"/>
<path d="M635.1 158.8 L642.5 165.2 L650.2 169.8 L655.3 172.7 L653.8 174.2 L648.8 171.6 L641.2 166.9 L634.4 159.8Z" fill="#440154"/>
<path d="M667.3 183.5 C668.1 183.0 666.7 186.0 666.5 187.3 C666.4 188.6 666.2 189.7 666.3 191.2 C666.5 192.6 667.0 194.0 667.3 196.0 C667.6 197.9 667.9 200.9 668.3 202.7 C668.6 204.5 668.5 205.4 669.4 206.5 C670.4 207.6 672.5 208.6 674.0 209.2 C675.5 209.9 677.6 209.8 678.4 210.4 C679.2 211.0 679.2 212.2 678.8 212.8 C678.4 213.3 677.6 213.6 676.0 213.8 C674.4 213.9 671.2 213.5 669.2 213.8 C667.3 214.0 665.5 214.2 664.4 215.2 C663.3 216.2 663.1 218.6 662.5 220.0 C661.9 221.4 661.4 222.7 660.6 223.8 C659.8 225.0 658.8 226.2 657.7 226.7 C656.6 227.2 654.9 227.2 653.8 226.7 C652.8 226.2 651.7 225.1 651.4 223.8 C651.2 222.6 651.7 220.6 652.4 219.0 C653.1 217.4 654.6 215.5 655.8 214.2 C657.0 212.9 658.7 212.6 659.6 211.3 C660.6 210.1 661.2 208.5 661.5 206.5 C661.9 204.6 661.9 201.7 661.5 199.8 C661.2 197.9 659.6 196.6 659.6 195.0 C659.6 193.4 660.3 192.1 661.5 190.2 C662.8 188.3 666.5 183.9 667.3 183.5Z" fill="#440154"/>
<path d="M638.5 206.5 C639.3 206.4 640.7 209.4 642.3 210.4 C643.9 211.3 646.3 211.7 648.1 212.3 C649.8 212.9 652.2 213.1 652.9 214.2 C653.6 215.4 652.6 217.4 652.4 219.0 C652.2 220.6 652.0 223.5 651.4 223.8 C650.9 224.2 649.9 221.9 649.0 221.0 C648.2 220.0 647.1 219.0 646.2 218.1 C645.2 217.1 644.2 216.2 643.3 215.2 C642.3 214.2 641.3 212.9 640.4 212.3 C639.4 211.7 637.8 212.3 637.5 211.3 C637.2 210.4 637.7 206.7 638.5 206.5Z" fill="#440154"/>
<path d="M638.5 205.6 C638.9 204.5 640.2 202.2 641.3 200.8 C642.5 199.3 643.8 198.0 645.2 196.9 C646.6 195.8 648.2 194.8 650.0 194.0 C651.8 193.2 653.8 192.8 655.8 192.1 C657.7 191.5 660.8 189.7 661.5 190.2 C662.3 190.7 660.0 193.4 660.1 195.0 C660.2 196.6 661.7 197.9 662.0 199.8 C662.3 201.7 662.3 204.6 662.0 206.5 C661.7 208.5 661.1 210.1 660.1 211.3 C659.1 212.6 657.5 212.9 656.2 214.2 C655.0 215.5 654.1 219.3 652.7 219.0 C651.3 218.8 649.8 214.2 648.1 212.8 C646.3 211.4 643.9 211.8 642.3 210.9 C640.7 209.9 639.1 207.9 638.5 207.0 C637.8 206.1 638.0 206.6 638.5 205.6Z" fill="#440154"/>
<path d="M603.8 198.4 C603.6 197.1 604.5 196.8 605.3 196.0 C606.1 195.1 607.5 194.0 608.7 193.1 C609.9 192.2 610.7 191.2 612.5 190.7 C614.3 190.2 617.0 190.6 619.2 190.2 C621.5 189.8 623.7 189.1 626.0 188.3 C628.2 187.5 630.6 186.5 632.7 185.4 C634.8 184.3 636.4 183.0 638.5 181.5 C640.5 180.1 643.3 177.6 645.2 176.7 C647.1 175.8 648.4 175.9 650.0 176.2 C651.6 176.6 653.2 177.8 654.8 178.7 C656.4 179.5 658.2 180.7 659.6 181.5 C661.1 182.3 662.2 183.1 663.5 183.5 C664.7 183.8 666.8 182.8 667.3 183.5 C667.8 184.1 667.3 186.2 666.3 187.3 C665.4 188.4 663.3 189.4 661.5 190.2 C659.8 191.0 657.7 191.5 655.8 192.1 C653.8 192.8 651.8 193.2 650.0 194.0 C648.2 194.8 646.6 195.8 645.2 196.9 C643.8 198.0 642.5 199.3 641.3 200.8 C640.2 202.2 639.3 203.8 638.5 205.6 C637.7 207.3 637.3 209.7 636.5 211.3 C635.8 212.9 634.8 214.1 634.1 215.2 C633.5 216.3 633.3 217.0 632.7 218.1 C632.1 219.2 631.6 220.5 630.8 221.9 C630.0 223.4 628.7 225.3 627.9 226.7 C627.1 228.2 626.6 229.5 626.0 230.6 C625.3 231.6 624.9 232.5 624.0 233.0 C623.2 233.5 621.8 233.7 620.7 233.5 C619.6 233.2 618.3 232.3 617.3 231.5 C616.3 230.7 615.4 229.9 614.4 228.7 C613.5 227.4 612.3 225.6 611.5 223.8 C610.8 222.1 610.4 220.0 610.1 218.1 C609.8 216.2 609.8 214.1 609.6 212.3 C609.5 210.5 609.6 208.9 609.1 207.5 C608.7 206.1 607.6 205.2 606.7 203.7 C605.8 202.1 604.1 199.6 603.8 198.4Z" fill="#440154"/>
<path d="M616.3 187.3 C618.1 185.8 621.5 183.2 624.0 182.0 C626.6 180.8 629.0 180.3 631.7 180.1 C634.5 179.9 638.2 180.2 640.4 180.8 C642.5 181.3 645.0 182.4 644.7 183.5 C644.4 184.6 641.1 186.2 638.5 187.3 C635.8 188.4 632.1 189.4 628.8 190.2 C625.6 191.0 621.8 192.0 619.2 192.1 C616.7 192.3 613.9 192.0 613.5 191.2 C613.0 190.4 614.6 188.8 616.3 187.3Z" fill="#fff" opacity="0.95" filter="url(#soft)"/>
<path d="M641.3 200.8 C642.5 199.0 643.4 197.9 645.2 196.9 C647.0 196.0 649.8 195.0 651.9 195.0 C654.0 195.0 656.1 195.6 657.7 196.9 C659.3 198.2 661.2 200.4 661.5 202.7 C661.9 204.9 660.9 208.8 659.6 210.4 C658.3 212.0 655.8 212.1 653.8 212.3 C651.9 212.5 650.0 211.7 648.1 211.3 C646.2 211.0 643.9 211.0 642.3 210.4 C640.7 209.7 638.6 209.1 638.5 207.5 C638.3 205.9 640.2 202.5 641.3 200.8Z" fill="#fff" opacity="0.95" filter="url(#soft)"/>
<path d="M644.2 169.8 L641.3 169.5 L636.1 178.2 L637.5 178.8 L641.2 172.9Z" fill="#440154"/>
<path d="M674.8 171.4 L682.8 169.4 L690.8 168.6 L690.8 169.4 L682.8 170.2 L675.1 172.4Z" fill="#440154"/>
<path d="M685.2 170.2 C685.5 169.4 688.2 169.2 689.4 170.2 C690.6 171.2 691.2 174.3 692.3 176.1 C693.5 178.0 694.6 180.1 696.3 181.4 C698.0 182.8 700.8 183.2 702.7 184.1 C704.6 185.0 707.5 185.8 707.7 187.0 C708.0 188.2 705.8 190.1 704.3 191.2 C702.8 192.4 700.2 194.1 698.7 193.9 C697.2 193.7 695.8 191.5 695.1 189.9 C694.4 188.4 695.2 186.4 694.5 184.6 C693.7 182.9 691.9 181.0 690.8 179.3 C689.6 177.7 688.4 176.2 687.4 174.7 C686.5 173.2 684.9 170.9 685.2 170.2Z" fill="#440154"/>
<path d="M718.8 159.9 C719.3 159.3 722.0 159.0 723.5 157.6 C725.0 156.2 726.6 153.5 727.6 151.7 C728.6 149.9 728.5 148.3 729.4 147.0 C730.3 145.7 731.5 144.3 732.9 144.1 C734.3 143.9 736.0 145.7 737.6 145.8 C739.2 145.9 740.3 145.2 742.3 144.7 C744.3 144.1 747.4 143.5 749.4 142.3 C751.3 141.1 752.3 138.8 754.1 137.6 C755.8 136.4 759.3 136.4 759.9 135.3 C760.5 134.1 758.3 132.3 757.6 130.6 C756.9 128.8 756.8 126.1 755.8 124.7 C754.8 123.2 752.2 122.7 751.7 121.7 C751.2 120.8 752.1 119.4 752.9 118.8 C753.7 118.2 755.2 117.7 756.4 118.2 C757.6 118.7 759.0 120.3 759.9 121.7 C760.8 123.2 760.7 125.2 761.7 127.0 C762.7 128.9 763.9 131.7 765.8 132.9 C767.7 134.1 770.5 134.1 772.9 134.1 C775.2 134.1 778.0 132.3 779.9 132.9 C781.8 133.5 783.2 135.8 784.0 137.6 C784.8 139.4 785.1 141.5 784.6 143.5 C784.1 145.4 782.5 147.6 781.1 149.4 C779.7 151.1 777.9 152.7 776.4 154.1 C774.8 155.4 773.2 156.2 771.7 157.6 C770.1 159.0 768.4 160.7 767.0 162.3 C765.6 163.8 764.8 166.6 763.5 167.0 C762.1 167.4 760.1 165.6 758.8 164.6 C757.4 163.7 756.6 161.7 755.2 161.1 C753.9 160.5 752.1 160.6 750.5 161.1 C749.0 161.6 747.5 163.7 745.8 164.0 C744.2 164.4 741.5 164.0 740.5 163.5 C739.6 162.9 739.3 161.5 740.0 160.5 C740.6 159.5 744.7 158.5 744.7 157.6 C744.7 156.7 741.5 155.6 740.0 155.2 C738.4 154.8 736.8 155.0 735.3 155.2 C733.7 155.4 732.1 155.6 730.6 156.4 C729.0 157.2 727.5 159.1 725.9 159.9 C724.2 160.7 721.7 161.1 720.6 161.1 C719.4 161.1 718.3 160.5 718.8 159.9Z" fill="#440154"/>
<path d="M735.3 147.0 C736.2 145.3 741.7 145.4 744.7 145.2 C747.6 145.0 750.7 144.9 752.9 145.8 C755.0 146.7 757.2 148.4 757.6 150.5 C758.0 152.7 757.0 157.2 755.2 158.8 C753.5 160.3 749.7 160.5 747.0 159.9 C744.3 159.3 740.7 157.4 738.8 155.2 C736.8 153.1 734.3 148.7 735.3 147.0Z" fill="#fff" opacity="0.95" filter="url(#soft)"/>
<path d="M740.0 177.6 C740.0 177.0 744.8 174.2 747.0 172.9 C749.2 171.5 751.1 170.6 752.9 169.3 C754.6 168.1 756.4 165.7 757.6 165.2 C758.8 164.7 759.9 165.5 760.2 166.4 C760.4 167.3 760.0 169.2 759.0 170.5 C758.0 171.8 756.1 173.1 754.1 174.0 C752.1 175.0 749.4 175.4 747.0 176.0 C744.7 176.6 740.0 178.1 740.0 177.6Z" fill="#440154"/>
<path d="M765.2 166.4 C766.0 164.8 769.0 161.2 770.5 159.9 C772.0 158.6 773.4 157.5 774.3 158.5 C775.1 159.5 775.0 163.4 775.4 165.8 C775.9 168.2 776.0 170.9 777.2 172.9 C778.4 174.8 781.8 176.3 782.5 177.6 C783.2 178.8 782.1 179.5 781.3 180.1 C780.5 180.8 778.4 180.2 777.8 181.3 C777.2 182.5 777.6 184.8 777.8 187.0 C778.0 189.1 779.0 192.3 779.0 194.0 C778.9 195.7 778.2 197.2 777.6 197.2 C776.9 197.2 775.7 195.7 775.2 194.0 C774.7 192.3 774.7 189.3 774.4 187.0 C774.1 184.6 773.9 182.3 773.2 179.9 C772.5 177.6 771.5 174.6 770.3 172.9 C769.0 171.1 766.6 170.6 765.8 169.6 C765.0 168.5 764.4 168.0 765.2 166.4Z" fill="#440154"/>
<path d="M717.6 206.2 L719.0 206.0 L720.2 207.6 L719.6 208.8 L718.0 208.2Z" fill="#440154"/>
<path d="M607.8 189.4 C609.0 187.2 611.7 184.3 614.0 182.6 C616.3 180.9 618.8 180.1 621.5 179.2 C624.2 178.2 627.4 177.5 630.3 176.9 C633.2 176.3 636.3 175.6 639.0 175.7 C641.7 175.9 644.7 176.9 646.5 178.0 C648.4 179.2 650.1 181.1 650.3 182.6 C650.5 184.1 649.7 185.8 647.8 187.2 C645.9 188.5 641.9 189.6 639.0 190.6 C636.1 191.5 633.4 192.1 630.3 192.9 C627.1 193.6 623.4 194.2 620.3 195.1 C617.1 196.1 613.8 198.4 611.5 198.6 C609.2 198.8 607.1 197.8 606.5 196.3 C605.9 194.8 606.5 191.7 607.8 189.4Z" fill="#fff" opacity="0.95" filter="url(#soft)"/>
<path d="M637.8 198.6 C638.4 196.1 640.1 194.2 642.8 192.9 C645.5 191.5 650.7 190.4 654.0 190.6 C657.4 190.8 660.9 191.9 662.8 194.0 C664.7 196.1 665.3 200.1 665.3 203.1 C665.3 206.2 664.7 210.4 662.8 212.3 C660.9 214.2 657.2 214.5 654.0 214.5 C650.9 214.5 646.5 213.4 644.0 212.3 C641.5 211.1 640.1 210.0 639.0 207.7 C638.0 205.4 637.2 201.0 637.8 198.6Z" fill="#fff" opacity="0.95" filter="url(#soft)"/>
<path d="M659.0 184.9 C659.7 183.0 664.9 181.6 666.6 182.6 C668.2 183.5 668.4 187.5 669.1 190.6 C669.7 193.6 670.3 198.0 670.3 200.8 C670.3 203.7 670.1 206.2 669.1 207.7 C668.0 209.2 665.3 210.7 664.0 210.0 C662.8 209.2 661.8 205.8 661.5 203.1 C661.3 200.5 663.2 197.0 662.8 194.0 C662.4 191.0 658.4 186.8 659.0 184.9Z" fill="#fff" opacity="0.95" filter="url(#soft)"/>
</g>
<rect x="580" y="35" width="213" height="207" fill="#fff" filter="url(#spf)" opacity="0.9"/>
</g>
<rect x="97.2" y="618.9" width="261.7" height="279.9" fill="none" stroke="#000" stroke-width="2.0" />
<rect x="361.4" y="619.1" width="10.0" height="280.4" fill="url(#cb)" stroke="#222" stroke-width="0.7" />
<line x1="371.4" y1="682.5" x2="375.8" y2="682.5" stroke="#111" stroke-width="1.2" />
<text x="380.2" y="688.9" font-size="18" text-anchor="start" font-weight="normal" fill="#111" >3</text>
<line x1="371.4" y1="754.7" x2="375.8" y2="754.7" stroke="#111" stroke-width="1.2" />
<text x="380.2" y="761.1" font-size="18" text-anchor="start" font-weight="normal" fill="#111" >2</text>
<line x1="371.4" y1="826.9" x2="375.8" y2="826.9" stroke="#111" stroke-width="1.2" />
<text x="380.2" y="833.3" font-size="18" text-anchor="start" font-weight="normal" fill="#111" >1</text>
<line x1="371.4" y1="899.1" x2="375.8" y2="899.1" stroke="#111" stroke-width="1.2" />
<text x="380.2" y="905.5" font-size="18" text-anchor="start" font-weight="normal" fill="#111" >0</text>
<text x="228.2" y="611.6" font-size="17.9" text-anchor="middle" font-weight="normal" fill="#111" >EGFR</text>
<text x="198.3" y="921.4" font-size="17.6" textLength="58.4" lengthAdjust="spacingAndGlyphs" fill="#111">UMAP1</text>
<text transform="translate(83.6,759) rotate(-90)" font-size="17.5" text-anchor="middle" fill="#111">UMAP2</text>
<text x="10.2" y="925.5" font-size="15" textLength="54.3" lengthAdjust="spacingAndGlyphs" fill="#a61ad6">ylzx.net</text>
<text x="764.5" y="619.3" font-size="17.6" text-anchor="middle" font-weight="normal" fill="#111" >EGFR</text>
<path d="M515.10 838.90 L515.13 838.46 L515.22 838.02 L515.36 837.58 L515.56 837.13 L515.81 836.69 L516.11 836.25 L516.46 835.81 L516.84 835.37 L517.27 834.93 L517.72 834.49 L518.20 834.04 L518.70 833.60 L519.22 833.16 L519.75 832.72 L520.28 832.28 L520.82 831.84 L521.35 831.40 L521.87 830.96 L522.38 830.51 L522.87 830.07 L523.35 829.63 L523.80 829.19 L524.23 828.75 L524.64 828.31 L525.03 827.87 L525.38 827.42 L525.71 826.98 L526.02 826.54 L526.30 826.10 L526.55 825.66 L526.79 825.22 L526.99 824.78 L527.18 824.33 L527.35 823.89 L527.50 823.45 L527.63 823.01 L527.74 822.57 L527.84 822.13 L527.93 821.69 L528.00 821.25 L528.05 820.80 L528.05 820.36 L528.05 819.92 L528.05 819.48 L528.05 819.04 L528.05 818.60 L528.05 637.2 L528.75 637.2 L528.75 818.60 L528.75 819.04 L528.75 819.48 L528.75 819.92 L528.75 820.36 L528.75 820.80 L528.80 821.25 L528.87 821.69 L528.96 822.13 L529.06 822.57 L529.17 823.01 L529.30 823.45 L529.45 823.89 L529.62 824.33 L529.81 824.78 L530.01 825.22 L530.25 825.66 L530.50 826.10 L530.78 826.54 L531.09 826.98 L531.42 827.42 L531.77 827.87 L532.16 828.31 L532.57 828.75 L533.00 829.19 L533.45 829.63 L533.93 830.07 L534.42 830.51 L534.93 830.96 L535.45 831.40 L535.98 831.84 L536.52 832.28 L537.05 832.72 L537.58 833.16 L538.10 833.60 L538.60 834.04 L539.08 834.49 L539.53 834.93 L539.96 835.37 L540.34 835.81 L540.69 836.25 L540.99 836.69 L541.24 837.13 L541.44 837.58 L541.58 838.02 L541.67 838.46 L541.70 838.90Z" fill="#2b77ad" stroke="#3a3a3a" stroke-width="1.1" stroke-linejoin="round"/>
<line x1="528.4" y1="637.2" x2="528.4" y2="824.05" stroke="#3a3a3a" stroke-width="1.3" />
<line x1="525.1999999999999" y1="637.2" x2="531.6" y2="637.2" stroke="#111" stroke-width="1.5" />
<line x1="528.4" y1="838.9" x2="528.4" y2="843.8" stroke="#111" stroke-width="1.3" />
<text transform="translate(524.1,848.5) rotate(90)" font-size="15.3" fill="#111">B cell</text>
<path d="M550.12 838.90 L550.34 838.47 L550.96 838.04 L551.93 837.61 L553.14 837.18 L554.50 836.75 L555.87 836.32 L557.19 835.89 L558.36 835.45 L559.36 835.02 L560.16 834.59 L560.78 834.16 L561.24 833.73 L561.56 833.30 L561.77 832.87 L561.77 832.44 L561.77 832.01 L561.77 637.2 L562.47 637.2 L562.47 832.01 L562.47 832.44 L562.47 832.87 L562.68 833.30 L563.00 833.73 L563.46 834.16 L564.08 834.59 L564.88 835.02 L565.88 835.45 L567.05 835.89 L568.37 836.32 L569.74 836.75 L571.10 837.18 L572.31 837.61 L573.28 838.04 L573.90 838.47 L574.12 838.90Z" fill="#f5831f" stroke="#3a3a3a" stroke-width="1.1" stroke-linejoin="round"/>
<line x1="562.12" y1="637.2" x2="562.12" y2="833.86" stroke="#3a3a3a" stroke-width="1.3" />
<line x1="558.52" y1="637.2" x2="565.72" y2="637.2" stroke="#111" stroke-width="1.5" />
<line x1="562.12" y1="838.9" x2="562.12" y2="843.8" stroke="#111" stroke-width="1.3" />
<text transform="translate(557.8,848.5) rotate(90)" font-size="15.3" fill="#111">CD8+ T cell</text>
<path d="M582.64 838.90 L582.69 838.46 L582.85 838.02 L583.11 837.58 L583.46 837.13 L583.90 836.69 L584.42 836.25 L585.00 835.81 L585.63 835.37 L586.31 834.93 L587.01 834.48 L587.72 834.04 L588.44 833.60 L589.15 833.16 L589.83 832.72 L590.49 832.28 L591.12 831.84 L591.71 831.39 L592.25 830.95 L592.74 830.51 L593.19 830.07 L593.59 829.63 L593.95 829.19 L594.26 828.74 L594.53 828.30 L594.77 827.86 L594.97 827.42 L595.13 826.98 L595.27 826.54 L595.39 826.10 L595.48 825.65 L595.49 825.21 L595.49 824.77 L595.49 824.33 L595.49 823.89 L595.49 637.2 L596.19 637.2 L596.19 823.89 L596.19 824.33 L596.19 824.77 L596.19 825.21 L596.20 825.65 L596.29 826.10 L596.41 826.54 L596.55 826.98 L596.71 827.42 L596.91 827.86 L597.15 828.30 L597.42 828.74 L597.73 829.19 L598.09 829.63 L598.49 830.07 L598.94 830.51 L599.43 830.95 L599.97 831.39 L600.56 831.84 L601.19 832.28 L601.85 832.72 L602.53 833.16 L603.24 833.60 L603.96 834.04 L604.67 834.48 L605.37 834.93 L606.05 835.37 L606.68 835.81 L607.26 836.25 L607.78 836.69 L608.22 837.13 L608.57 837.58 L608.83 838.02 L608.99 838.46 L609.04 838.90Z" fill="#36996b" stroke="#3a3a3a" stroke-width="1.1" stroke-linejoin="round"/>
<line x1="595.8399999999999" y1="637.2" x2="595.8399999999999" y2="827.92" stroke="#3a3a3a" stroke-width="1.3" />
<line x1="593.2399999999999" y1="637.2" x2="598.4399999999999" y2="637.2" stroke="#111" stroke-width="1.5" />
<line x1="595.8399999999999" y1="838.9" x2="595.8399999999999" y2="843.8" stroke="#111" stroke-width="1.3" />
<text transform="translate(591.5,848.5) rotate(90)" font-size="15.3" fill="#111">Cycling</text>
<path d="M616.26 838.90 L616.28 838.46 L616.34 838.01 L616.45 837.57 L616.59 837.12 L616.78 836.68 L617.00 836.23 L617.26 835.79 L617.55 835.35 L617.87 834.90 L618.22 834.46 L618.59 834.01 L618.99 833.57 L619.40 833.12 L619.83 832.68 L620.27 832.23 L620.71 831.79 L621.17 831.35 L621.62 830.90 L622.08 830.46 L622.53 830.01 L622.97 829.57 L623.41 829.12 L623.83 828.68 L624.25 828.24 L624.64 827.79 L625.03 827.35 L625.39 826.90 L625.74 826.46 L626.07 826.01 L626.39 825.57 L626.68 825.13 L626.96 824.68 L627.21 824.24 L627.45 823.79 L627.67 823.35 L627.87 822.90 L628.06 822.46 L628.23 822.01 L628.38 821.57 L628.52 821.13 L628.65 820.68 L628.76 820.24 L628.86 819.79 L628.95 819.35 L629.03 818.90 L629.10 818.46 L629.17 818.02 L629.21 817.57 L629.21 817.13 L629.21 816.68 L629.21 816.24 L629.21 815.79 L629.21 815.35 L629.21 814.91 L629.21 637.2 L629.91 637.2 L629.91 814.91 L629.91 815.35 L629.91 815.79 L629.91 816.24 L629.91 816.68 L629.91 817.13 L629.91 817.57 L629.95 818.02 L630.02 818.46 L630.09 818.90 L630.17 819.35 L630.26 819.79 L630.36 820.24 L630.47 820.68 L630.60 821.13 L630.74 821.57 L630.89 822.01 L631.06 822.46 L631.25 822.90 L631.45 823.35 L631.67 823.79 L631.91 824.24 L632.16 824.68 L632.44 825.13 L632.73 825.57 L633.05 826.01 L633.38 826.46 L633.73 826.90 L634.09 827.35 L634.48 827.79 L634.87 828.24 L635.29 828.68 L635.71 829.12 L636.15 829.57 L636.59 830.01 L637.04 830.46 L637.50 830.90 L637.95 831.35 L638.41 831.79 L638.85 832.23 L639.29 832.68 L639.72 833.12 L640.13 833.57 L640.53 834.01 L640.90 834.46 L641.25 834.90 L641.57 835.35 L641.86 835.79 L642.12 836.23 L642.34 836.68 L642.53 837.12 L642.67 837.57 L642.78 838.01 L642.84 838.46 L642.86 838.90Z" fill="#cc3333" stroke="#3a3a3a" stroke-width="1.1" stroke-linejoin="round"/>
<line x1="629.56" y1="637.2" x2="629.56" y2="821.35" stroke="#3a3a3a" stroke-width="1.3" />
<line x1="626.9599999999999" y1="637.2" x2="632.16" y2="637.2" stroke="#111" stroke-width="1.5" />
<line x1="629.56" y1="838.9" x2="629.56" y2="843.8" stroke="#111" stroke-width="1.3" />
<text transform="translate(625.3,848.5) rotate(90)" font-size="15.3" fill="#111">DC</text>
<path d="M650.64 838.90 L650.46 838.45 L650.30 837.99 L650.16 837.54 L650.04 837.08 L649.95 836.63 L649.87 836.18 L649.82 835.72 L649.79 835.27 L649.78 834.81 L649.80 834.36 L649.84 833.90 L649.90 833.45 L649.98 833.00 L650.09 832.54 L650.21 832.09 L650.36 831.63 L650.53 831.18 L650.72 830.73 L650.92 830.27 L651.14 829.82 L651.38 829.36 L651.64 828.91 L651.91 828.46 L652.19 828.00 L652.48 827.55 L652.78 827.09 L653.09 826.64 L653.41 826.18 L653.74 825.73 L654.07 825.28 L654.40 824.82 L654.74 824.37 L655.08 823.91 L655.41 823.46 L655.75 823.01 L656.08 822.55 L656.42 822.10 L656.74 821.64 L657.06 821.19 L657.38 820.74 L657.69 820.28 L657.99 819.83 L658.29 819.37 L658.57 818.92 L658.85 818.46 L659.12 818.01 L659.38 817.56 L659.63 817.10 L659.87 816.65 L660.09 816.19 L660.31 815.74 L660.52 815.29 L660.72 814.83 L660.91 814.38 L661.08 813.92 L661.25 813.47 L661.41 813.02 L661.56 812.56 L661.70 812.11 L661.83 811.65 L661.95 811.20 L662.06 810.74 L662.17 810.29 L662.27 809.84 L662.36 809.38 L662.45 808.93 L662.52 808.47 L662.60 808.02 L662.66 807.57 L662.72 807.11 L662.78 806.66 L662.83 806.20 L662.87 805.75 L662.92 805.30 L662.93 804.84 L662.93 804.39 L662.93 803.93 L662.93 803.48 L662.93 803.03 L662.93 802.57 L662.93 802.12 L662.93 801.66 L662.93 801.21 L662.93 800.75 L662.93 637.2 L663.63 637.2 L663.63 800.75 L663.63 801.21 L663.63 801.66 L663.63 802.12 L663.63 802.57 L663.63 803.03 L663.63 803.48 L663.63 803.93 L663.63 804.39 L663.63 804.84 L663.64 805.30 L663.69 805.75 L663.73 806.20 L663.78 806.66 L663.84 807.11 L663.90 807.57 L663.96 808.02 L664.04 808.47 L664.11 808.93 L664.20 809.38 L664.29 809.84 L664.39 810.29 L664.50 810.74 L664.61 811.20 L664.73 811.65 L664.86 812.11 L665.00 812.56 L665.15 813.02 L665.31 813.47 L665.48 813.92 L665.65 814.38 L665.84 814.83 L666.04 815.29 L666.25 815.74 L666.47 816.19 L666.69 816.65 L666.93 817.10 L667.18 817.56 L667.44 818.01 L667.71 818.46 L667.99 818.92 L668.27 819.37 L668.57 819.83 L668.87 820.28 L669.18 820.74 L669.50 821.19 L669.82 821.64 L670.14 822.10 L670.48 822.55 L670.81 823.01 L671.15 823.46 L671.48 823.91 L671.82 824.37 L672.16 824.82 L672.49 825.28 L672.82 825.73 L673.15 826.18 L673.47 826.64 L673.78 827.09 L674.08 827.55 L674.37 828.00 L674.65 828.46 L674.92 828.91 L675.18 829.36 L675.42 829.82 L675.64 830.27 L675.84 830.73 L676.03 831.18 L676.20 831.63 L676.35 832.09 L676.47 832.54 L676.58 833.00 L676.66 833.45 L676.72 833.90 L676.76 834.36 L676.78 834.81 L676.77 835.27 L676.74 835.72 L676.69 836.18 L676.61 836.63 L676.52 837.08 L676.40 837.54 L676.26 837.99 L676.10 838.45 L675.92 838.90Z" fill="#a54de8" stroke="#3a3a3a" stroke-width="1.1" stroke-linejoin="round"/>
<line x1="663.28" y1="637.2" x2="663.28" y2="811.0" stroke="#3a3a3a" stroke-width="1.3" />
<line x1="660.28" y1="637.2" x2="666.28" y2="637.2" stroke="#111" stroke-width="1.5" />
<line x1="663.28" y1="838.9" x2="663.28" y2="843.8" stroke="#111" stroke-width="1.3" />
<text transform="translate(659.0,848.5) rotate(90)" font-size="15.3" fill="#111">Endothelial</text>
<path d="M684.18 838.90 L684.05 838.45 L683.93 837.99 L683.82 837.54 L683.72 837.08 L683.62 836.63 L683.54 836.17 L683.46 835.72 L683.40 835.27 L683.34 834.81 L683.29 834.36 L683.25 833.90 L683.23 833.45 L683.21 832.99 L683.20 832.54 L683.20 832.08 L683.21 831.63 L683.24 831.18 L683.27 830.72 L683.31 830.27 L683.36 829.81 L683.42 829.36 L683.49 828.90 L683.57 828.45 L683.66 828.00 L683.76 827.54 L683.86 827.09 L683.98 826.63 L684.10 826.18 L684.23 825.72 L684.37 825.27 L684.52 824.82 L684.67 824.36 L684.83 823.91 L685.00 823.45 L685.17 823.00 L685.35 822.54 L685.54 822.09 L685.73 821.64 L685.92 821.18 L686.12 820.73 L686.32 820.27 L686.53 819.82 L686.74 819.36 L686.95 818.91 L687.17 818.45 L687.39 818.00 L687.61 817.55 L687.83 817.09 L688.05 816.64 L688.28 816.18 L688.50 815.73 L688.73 815.27 L688.95 814.82 L689.18 814.37 L689.40 813.91 L689.62 813.46 L689.84 813.00 L690.06 812.55 L690.28 812.09 L690.49 811.64 L690.71 811.19 L690.92 810.73 L691.13 810.28 L691.33 809.82 L691.53 809.37 L691.73 808.91 L691.92 808.46 L692.11 808.00 L692.30 807.55 L692.48 807.10 L692.66 806.64 L692.84 806.19 L693.01 805.73 L693.18 805.28 L693.34 804.82 L693.50 804.37 L693.65 803.92 L693.80 803.46 L693.94 803.01 L694.08 802.55 L694.22 802.10 L694.35 801.64 L694.48 801.19 L694.60 800.74 L694.72 800.28 L694.83 799.83 L694.94 799.37 L695.05 798.92 L695.15 798.46 L695.25 798.01 L695.34 797.56 L695.43 797.10 L695.52 796.65 L695.60 796.19 L695.68 795.74 L695.75 795.28 L695.82 794.83 L695.89 794.37 L695.96 793.92 L696.02 793.47 L696.08 793.01 L696.14 792.56 L696.19 792.10 L696.24 791.65 L696.29 791.19 L696.33 790.74 L696.37 790.29 L696.42 789.83 L696.45 789.38 L696.49 788.92 L696.52 788.47 L696.56 788.01 L696.59 787.56 L696.62 787.11 L696.64 786.65 L696.65 786.20 L696.65 785.74 L696.65 785.29 L696.65 784.83 L696.65 784.38 L696.65 783.93 L696.65 783.47 L696.65 783.02 L696.65 782.56 L696.65 782.11 L696.65 781.65 L696.65 781.20 L696.65 780.74 L696.65 780.29 L696.65 779.84 L696.65 637.2 L697.35 637.2 L697.35 779.84 L697.35 780.29 L697.35 780.74 L697.35 781.20 L697.35 781.65 L697.35 782.11 L697.35 782.56 L697.35 783.02 L697.35 783.47 L697.35 783.93 L697.35 784.38 L697.35 784.83 L697.35 785.29 L697.35 785.74 L697.35 786.20 L697.36 786.65 L697.38 787.11 L697.41 787.56 L697.44 788.01 L697.48 788.47 L697.51 788.92 L697.55 789.38 L697.58 789.83 L697.63 790.29 L697.67 790.74 L697.71 791.19 L697.76 791.65 L697.81 792.10 L697.86 792.56 L697.92 793.01 L697.98 793.47 L698.04 793.92 L698.11 794.37 L698.18 794.83 L698.25 795.28 L698.32 795.74 L698.40 796.19 L698.48 796.65 L698.57 797.10 L698.66 797.56 L698.75 798.01 L698.85 798.46 L698.95 798.92 L699.06 799.37 L699.17 799.83 L699.28 800.28 L699.40 800.74 L699.52 801.19 L699.65 801.64 L699.78 802.10 L699.92 802.55 L700.06 803.01 L700.20 803.46 L700.35 803.92 L700.50 804.37 L700.66 804.82 L700.82 805.28 L700.99 805.73 L701.16 806.19 L701.34 806.64 L701.52 807.10 L701.70 807.55 L701.89 808.00 L702.08 808.46 L702.27 808.91 L702.47 809.37 L702.67 809.82 L702.87 810.28 L703.08 810.73 L703.29 811.19 L703.51 811.64 L703.72 812.09 L703.94 812.55 L704.16 813.00 L704.38 813.46 L704.60 813.91 L704.82 814.37 L705.05 814.82 L705.27 815.27 L705.50 815.73 L705.72 816.18 L705.95 816.64 L706.17 817.09 L706.39 817.55 L706.61 818.00 L706.83 818.45 L707.05 818.91 L707.26 819.36 L707.47 819.82 L707.68 820.27 L707.88 820.73 L708.08 821.18 L708.27 821.64 L708.46 822.09 L708.65 822.54 L708.83 823.00 L709.00 823.45 L709.17 823.91 L709.33 824.36 L709.48 824.82 L709.63 825.27 L709.77 825.72 L709.90 826.18 L710.02 826.63 L710.14 827.09 L710.24 827.54 L710.34 828.00 L710.43 828.45 L710.51 828.90 L710.58 829.36 L710.64 829.81 L710.69 830.27 L710.73 830.72 L710.76 831.18 L710.79 831.63 L710.80 832.08 L710.80 832.54 L710.79 832.99 L710.77 833.45 L710.75 833.90 L710.71 834.36 L710.66 834.81 L710.60 835.27 L710.54 835.72 L710.46 836.17 L710.38 836.63 L710.28 837.08 L710.18 837.54 L710.07 837.99 L709.95 838.45 L709.82 838.90Z" fill="#86584f" stroke="#3a3a3a" stroke-width="1.1" stroke-linejoin="round"/>
<line x1="697.0" y1="637.2" x2="697.0" y2="795.6999999999999" stroke="#3a3a3a" stroke-width="1.3" />
<line x1="695.0" y1="637.2" x2="699.0" y2="637.2" stroke="#111" stroke-width="1.5" />
<line x1="697.0" y1="838.9" x2="697.0" y2="843.8" stroke="#111" stroke-width="1.3" />
<text transform="translate(692.7,848.5) rotate(90)" font-size="15.3" fill="#111">Fibroblast</text>
<line x1="730.72" y1="838.9" x2="730.72" y2="843.8" stroke="#111" stroke-width="1.3" />
<text transform="translate(726.4,848.5) rotate(90)" font-size="15.3" fill="#111">Mast cell</text>
<path d="M751.14 838.90 L751.18 838.46 L751.31 838.03 L751.52 837.59 L751.81 837.15 L752.17 836.71 L752.59 836.28 L753.08 835.84 L753.61 835.40 L754.19 834.97 L754.80 834.53 L755.43 834.09 L756.07 833.65 L756.72 833.22 L757.36 832.78 L757.99 832.34 L758.60 831.91 L759.19 831.47 L759.75 831.03 L760.27 830.59 L760.77 830.16 L761.22 829.72 L761.64 829.28 L762.01 828.85 L762.35 828.41 L762.66 827.97 L762.93 827.53 L763.16 827.10 L763.37 826.66 L763.55 826.22 L763.70 825.79 L763.84 825.35 L763.95 824.91 L764.04 824.47 L764.09 824.04 L764.09 823.60 L764.09 823.16 L764.09 822.73 L764.09 822.29 L764.09 637.2 L764.79 637.2 L764.79 822.29 L764.79 822.73 L764.79 823.16 L764.79 823.60 L764.79 824.04 L764.84 824.47 L764.93 824.91 L765.04 825.35 L765.18 825.79 L765.33 826.22 L765.51 826.66 L765.72 827.10 L765.95 827.53 L766.22 827.97 L766.53 828.41 L766.87 828.85 L767.24 829.28 L767.66 829.72 L768.11 830.16 L768.61 830.59 L769.13 831.03 L769.69 831.47 L770.28 831.91 L770.89 832.34 L771.52 832.78 L772.16 833.22 L772.81 833.65 L773.45 834.09 L774.08 834.53 L774.69 834.97 L775.27 835.40 L775.80 835.84 L776.29 836.28 L776.71 836.71 L777.07 837.15 L777.36 837.59 L777.57 838.03 L777.70 838.46 L777.74 838.90Z" fill="#2db4c4" stroke="#3a3a3a" stroke-width="1.1" stroke-linejoin="round"/>
<line x1="764.4399999999999" y1="637.2" x2="764.4399999999999" y2="826.75" stroke="#3a3a3a" stroke-width="1.3" />
<line x1="761.8399999999999" y1="637.2" x2="767.04" y2="637.2" stroke="#111" stroke-width="1.5" />
<line x1="764.4399999999999" y1="838.9" x2="764.4399999999999" y2="843.8" stroke="#111" stroke-width="1.3" />
<text transform="translate(760.1,848.5) rotate(90)" font-size="15.3" fill="#111">Monocyte</text>
<path d="M785.36 838.90 L785.46 838.47 L785.77 838.05 L786.26 837.62 L786.91 837.20 L787.70 836.77 L788.58 836.35 L789.54 835.92 L790.52 835.50 L791.50 835.07 L792.44 834.64 L793.33 834.22 L794.15 833.79 L794.88 833.37 L795.52 832.94 L796.07 832.52 L796.53 832.09 L796.91 831.67 L797.22 831.24 L797.46 830.81 L797.65 830.39 L797.79 829.96 L797.81 829.54 L797.81 829.11 L797.81 828.69 L797.81 637.2 L798.51 637.2 L798.51 828.69 L798.51 829.11 L798.51 829.54 L798.53 829.96 L798.67 830.39 L798.86 830.81 L799.10 831.24 L799.41 831.67 L799.79 832.09 L800.25 832.52 L800.80 832.94 L801.44 833.37 L802.17 833.79 L802.99 834.22 L803.88 834.64 L804.82 835.07 L805.80 835.50 L806.78 835.92 L807.74 836.35 L808.62 836.77 L809.41 837.20 L810.06 837.62 L810.55 838.05 L810.86 838.47 L810.96 838.90Z" fill="#afc6e4" stroke="#3a3a3a" stroke-width="1.1" stroke-linejoin="round"/>
<line x1="798.16" y1="637.2" x2="798.16" y2="831.43" stroke="#3a3a3a" stroke-width="1.3" />
<line x1="795.16" y1="637.2" x2="801.16" y2="637.2" stroke="#111" stroke-width="1.5" />
<line x1="798.16" y1="838.9" x2="798.16" y2="843.8" stroke="#111" stroke-width="1.3" />
<text transform="translate(793.9,848.5) rotate(90)" font-size="15.3" fill="#111">NK</text>
<path d="M819.08 838.90 L819.17 838.47 L819.43 838.05 L819.85 837.62 L820.41 837.20 L821.10 836.77 L821.88 836.34 L822.74 835.92 L823.63 835.49 L824.54 835.07 L825.44 834.64 L826.31 834.21 L827.12 833.79 L827.87 833.36 L828.55 832.94 L829.15 832.51 L829.67 832.08 L830.12 831.66 L830.50 831.23 L830.81 830.81 L831.06 830.38 L831.26 829.96 L831.42 829.53 L831.53 829.10 L831.53 828.68 L831.53 828.25 L831.53 827.83 L831.53 637.2 L832.23 637.2 L832.23 827.83 L832.23 828.25 L832.23 828.68 L832.23 829.10 L832.34 829.53 L832.50 829.96 L832.70 830.38 L832.95 830.81 L833.26 831.23 L833.64 831.66 L834.09 832.08 L834.61 832.51 L835.21 832.94 L835.89 833.36 L836.64 833.79 L837.45 834.21 L838.32 834.64 L839.22 835.07 L840.13 835.49 L841.02 835.92 L841.88 836.34 L842.66 836.77 L843.35 837.20 L843.91 837.62 L844.33 838.05 L844.59 838.47 L844.68 838.90Z" fill="#f9b97b" stroke="#3a3a3a" stroke-width="1.1" stroke-linejoin="round"/>
<line x1="831.88" y1="637.2" x2="831.88" y2="830.8" stroke="#3a3a3a" stroke-width="1.3" />
<line x1="828.88" y1="637.2" x2="834.88" y2="637.2" stroke="#111" stroke-width="1.5" />
<line x1="831.88" y1="838.9" x2="831.88" y2="843.8" stroke="#111" stroke-width="1.3" />
<text transform="translate(827.6,848.5) rotate(90)" font-size="15.3" fill="#111">NKT</text>
<path d="M852.82 838.90 L852.68 838.45 L852.56 838.00 L852.46 837.54 L852.38 837.09 L852.33 836.64 L852.30 836.19 L852.30 835.74 L852.32 835.29 L852.37 834.83 L852.44 834.38 L852.53 833.93 L852.64 833.48 L852.78 833.03 L852.94 832.58 L853.12 832.12 L853.32 831.67 L853.54 831.22 L853.78 830.77 L854.03 830.32 L854.30 829.87 L854.58 829.41 L854.87 828.96 L855.18 828.51 L855.50 828.06 L855.82 827.61 L856.15 827.16 L856.49 826.70 L856.83 826.25 L857.17 825.80 L857.51 825.35 L857.86 824.90 L858.20 824.45 L858.54 823.99 L858.88 823.54 L859.21 823.09 L859.54 822.64 L859.86 822.19 L860.17 821.74 L860.48 821.28 L860.78 820.83 L861.07 820.38 L861.35 819.93 L861.62 819.48 L861.87 819.03 L862.12 818.57 L862.36 818.12 L862.59 817.67 L862.80 817.22 L863.01 816.77 L863.20 816.31 L863.39 815.86 L863.56 815.41 L863.73 814.96 L863.88 814.51 L864.02 814.06 L864.16 813.60 L864.28 813.15 L864.40 812.70 L864.51 812.25 L864.61 811.80 L864.70 811.35 L864.79 810.89 L864.87 810.44 L864.94 809.99 L865.00 809.54 L865.06 809.09 L865.12 808.64 L865.17 808.18 L865.22 807.73 L865.25 807.28 L865.25 806.83 L865.25 806.38 L865.25 805.93 L865.25 805.47 L865.25 805.02 L865.25 804.57 L865.25 804.12 L865.25 803.67 L865.25 803.22 L865.25 637.2 L865.95 637.2 L865.95 803.22 L865.95 803.67 L865.95 804.12 L865.95 804.57 L865.95 805.02 L865.95 805.47 L865.95 805.93 L865.95 806.38 L865.95 806.83 L865.95 807.28 L865.98 807.73 L866.03 808.18 L866.08 808.64 L866.14 809.09 L866.20 809.54 L866.26 809.99 L866.33 810.44 L866.41 810.89 L866.50 811.35 L866.59 811.80 L866.69 812.25 L866.80 812.70 L866.92 813.15 L867.04 813.60 L867.18 814.06 L867.32 814.51 L867.47 814.96 L867.64 815.41 L867.81 815.86 L868.00 816.31 L868.19 816.77 L868.40 817.22 L868.61 817.67 L868.84 818.12 L869.08 818.57 L869.33 819.03 L869.58 819.48 L869.85 819.93 L870.13 820.38 L870.42 820.83 L870.72 821.28 L871.03 821.74 L871.34 822.19 L871.66 822.64 L871.99 823.09 L872.32 823.54 L872.66 823.99 L873.00 824.45 L873.34 824.90 L873.69 825.35 L874.03 825.80 L874.37 826.25 L874.71 826.70 L875.05 827.16 L875.38 827.61 L875.70 828.06 L876.02 828.51 L876.33 828.96 L876.62 829.41 L876.90 829.87 L877.17 830.32 L877.42 830.77 L877.66 831.22 L877.88 831.67 L878.08 832.12 L878.26 832.58 L878.42 833.03 L878.56 833.48 L878.67 833.93 L878.76 834.38 L878.83 834.83 L878.88 835.29 L878.90 835.74 L878.90 836.19 L878.87 836.64 L878.82 837.09 L878.74 837.54 L878.64 838.00 L878.52 838.45 L878.38 838.90Z" fill="#98d68b" stroke="#3a3a3a" stroke-width="1.1" stroke-linejoin="round"/>
<line x1="865.5999999999999" y1="637.2" x2="865.5999999999999" y2="812.8" stroke="#3a3a3a" stroke-width="1.3" />
<line x1="861.9999999999999" y1="637.2" x2="869.1999999999999" y2="637.2" stroke="#111" stroke-width="1.5" />
<line x1="865.5999999999999" y1="838.9" x2="865.5999999999999" y2="843.8" stroke="#111" stroke-width="1.3" />
<text transform="translate(861.3,848.5) rotate(90)" font-size="15.3" fill="#111">Plasma cell</text>
<path d="M886.42 838.90 L886.51 838.47 L886.77 838.05 L887.19 837.62 L887.76 837.20 L888.46 836.77 L889.25 836.34 L890.11 835.92 L891.01 835.49 L891.92 835.07 L892.83 834.64 L893.70 834.21 L894.52 833.79 L895.28 833.36 L895.96 832.94 L896.57 832.51 L897.10 832.08 L897.55 831.66 L897.93 831.23 L898.24 830.81 L898.49 830.38 L898.70 829.96 L898.86 829.53 L898.97 829.10 L898.97 828.68 L898.97 828.25 L898.97 827.83 L898.97 637.2 L899.67 637.2 L899.67 827.83 L899.67 828.25 L899.67 828.68 L899.67 829.10 L899.78 829.53 L899.94 829.96 L900.15 830.38 L900.40 830.81 L900.71 831.23 L901.09 831.66 L901.54 832.08 L902.07 832.51 L902.68 832.94 L903.36 833.36 L904.12 833.79 L904.94 834.21 L905.81 834.64 L906.72 835.07 L907.63 835.49 L908.53 835.92 L909.39 836.34 L910.18 836.77 L910.88 837.20 L911.45 837.62 L911.87 838.05 L912.13 838.47 L912.22 838.90Z" fill="#f89a98" stroke="#3a3a3a" stroke-width="1.1" stroke-linejoin="round"/>
<line x1="899.3199999999999" y1="637.2" x2="899.3199999999999" y2="830.8" stroke="#3a3a3a" stroke-width="1.3" />
<line x1="895.7199999999999" y1="637.2" x2="902.92" y2="637.2" stroke="#111" stroke-width="1.5" />
<line x1="899.3199999999999" y1="838.9" x2="899.3199999999999" y2="843.8" stroke="#111" stroke-width="1.3" />
<text transform="translate(895.0,848.5) rotate(90)" font-size="15.3" fill="#111">T-Helper</text>
<path d="M920.04 838.90 L920.11 838.46 L920.32 838.03 L920.67 837.59 L921.14 837.15 L921.72 836.71 L922.38 836.28 L923.12 835.84 L923.91 835.40 L924.73 834.97 L925.56 834.53 L926.38 834.09 L927.17 833.66 L927.93 833.22 L928.64 832.78 L929.29 832.34 L929.88 831.91 L930.40 831.47 L930.87 831.03 L931.27 830.60 L931.61 830.16 L931.90 829.72 L932.14 829.29 L932.34 828.85 L932.50 828.41 L932.63 827.97 L932.69 827.54 L932.69 827.10 L932.69 826.66 L932.69 826.23 L932.69 637.2 L933.39 637.2 L933.39 826.23 L933.39 826.66 L933.39 827.10 L933.39 827.54 L933.45 827.97 L933.58 828.41 L933.74 828.85 L933.94 829.29 L934.18 829.72 L934.47 830.16 L934.81 830.60 L935.21 831.03 L935.68 831.47 L936.20 831.91 L936.79 832.34 L937.44 832.78 L938.15 833.22 L938.91 833.66 L939.70 834.09 L940.52 834.53 L941.35 834.97 L942.17 835.40 L942.96 835.84 L943.70 836.28 L944.36 836.71 L944.94 837.15 L945.41 837.59 L945.76 838.03 L945.97 838.46 L946.04 838.90Z" fill="#c3b1d2" stroke="#3a3a3a" stroke-width="1.1" stroke-linejoin="round"/>
<line x1="933.04" y1="637.2" x2="933.04" y2="829.63" stroke="#3a3a3a" stroke-width="1.3" />
<line x1="930.4399999999999" y1="637.2" x2="935.64" y2="637.2" stroke="#111" stroke-width="1.5" />
<line x1="933.04" y1="838.9" x2="933.04" y2="843.8" stroke="#111" stroke-width="1.3" />
<text transform="translate(928.7,848.5) rotate(90)" font-size="15.3" fill="#111">T-Reg</text>
<path d="M953.76 838.90 L953.82 838.46 L953.98 838.02 L954.25 837.58 L954.62 837.14 L955.07 836.70 L955.61 836.26 L956.21 835.82 L956.86 835.38 L957.56 834.94 L958.27 834.50 L959.00 834.06 L959.72 833.62 L960.44 833.18 L961.12 832.74 L961.78 832.30 L962.40 831.86 L962.97 831.42 L963.49 830.98 L963.97 830.54 L964.40 830.10 L964.78 829.66 L965.11 829.22 L965.40 828.78 L965.65 828.34 L965.86 827.90 L966.03 827.46 L966.18 827.02 L966.30 826.58 L966.40 826.14 L966.41 825.70 L966.41 825.26 L966.41 824.82 L966.41 824.38 L966.41 637.2 L967.11 637.2 L967.11 824.38 L967.11 824.82 L967.11 825.26 L967.11 825.70 L967.12 826.14 L967.22 826.58 L967.34 827.02 L967.49 827.46 L967.66 827.90 L967.87 828.34 L968.12 828.78 L968.41 829.22 L968.74 829.66 L969.12 830.10 L969.55 830.54 L970.03 830.98 L970.55 831.42 L971.12 831.86 L971.74 832.30 L972.40 832.74 L973.08 833.18 L973.80 833.62 L974.52 834.06 L975.25 834.50 L975.96 834.94 L976.66 835.38 L977.31 835.82 L977.91 836.26 L978.45 836.70 L978.90 837.14 L979.27 837.58 L979.54 838.02 L979.70 838.46 L979.76 838.90Z" fill="#c09b93" stroke="#3a3a3a" stroke-width="1.1" stroke-linejoin="round"/>
<line x1="966.76" y1="637.2" x2="966.76" y2="828.28" stroke="#3a3a3a" stroke-width="1.3" />
<line x1="962.76" y1="637.2" x2="970.76" y2="637.2" stroke="#111" stroke-width="1.5" />
<line x1="966.76" y1="838.9" x2="966.76" y2="843.8" stroke="#111" stroke-width="1.3" />
<text transform="translate(962.5,848.5) rotate(90)" font-size="15.3" fill="#111">TAM</text>
<path d="M987.48 838.90 L987.31 838.45 L987.15 837.99 L987.01 837.54 L986.88 837.09 L986.77 836.64 L986.67 836.18 L986.58 835.73 L986.51 835.28 L986.46 834.83 L986.42 834.37 L986.39 833.92 L986.38 833.47 L986.39 833.01 L986.41 832.56 L986.44 832.11 L986.49 831.66 L986.56 831.20 L986.64 830.75 L986.74 830.30 L986.85 829.85 L986.97 829.39 L987.11 828.94 L987.26 828.49 L987.43 828.03 L987.60 827.58 L987.79 827.13 L987.99 826.68 L988.19 826.22 L988.41 825.77 L988.64 825.32 L988.88 824.87 L989.12 824.41 L989.37 823.96 L989.63 823.51 L989.89 823.05 L990.16 822.60 L990.43 822.15 L990.71 821.70 L990.98 821.24 L991.26 820.79 L991.55 820.34 L991.83 819.89 L992.11 819.43 L992.40 818.98 L992.68 818.53 L992.96 818.07 L993.24 817.62 L993.51 817.17 L993.78 816.72 L994.05 816.26 L994.32 815.81 L994.58 815.36 L994.83 814.91 L995.08 814.45 L995.33 814.00 L995.57 813.55 L995.80 813.09 L996.03 812.64 L996.25 812.19 L996.46 811.74 L996.67 811.28 L996.87 810.83 L997.06 810.38 L997.25 809.93 L997.43 809.47 L997.60 809.02 L997.77 808.57 L997.93 808.11 L998.08 807.66 L998.23 807.21 L998.37 806.76 L998.50 806.30 L998.63 805.85 L998.75 805.40 L998.86 804.95 L998.97 804.49 L999.07 804.04 L999.17 803.59 L999.26 803.13 L999.35 802.68 L999.43 802.23 L999.51 801.78 L999.58 801.32 L999.65 800.87 L999.71 800.42 L999.77 799.97 L999.83 799.51 L999.88 799.06 L999.93 798.61 L999.97 798.15 L1000.01 797.70 L1000.05 797.25 L1000.09 796.80 L1000.12 796.34 L1000.13 795.89 L1000.13 795.44 L1000.13 794.99 L1000.13 794.53 L1000.13 794.08 L1000.13 793.63 L1000.13 793.17 L1000.13 792.72 L1000.13 792.27 L1000.13 791.82 L1000.13 791.36 L1000.13 790.91 L999.98 700 L999.68 665 L995.98 641 L995.48 637.2 L1005.48 637.2 L1004.98 641 L1001.28 665 L1000.98 700 L1000.83 790.91 L1000.83 791.36 L1000.83 791.82 L1000.83 792.27 L1000.83 792.72 L1000.83 793.17 L1000.83 793.63 L1000.83 794.08 L1000.83 794.53 L1000.83 794.99 L1000.83 795.44 L1000.83 795.89 L1000.84 796.34 L1000.87 796.80 L1000.91 797.25 L1000.95 797.70 L1000.99 798.15 L1001.03 798.61 L1001.08 799.06 L1001.13 799.51 L1001.19 799.97 L1001.25 800.42 L1001.31 800.87 L1001.38 801.32 L1001.45 801.78 L1001.53 802.23 L1001.61 802.68 L1001.70 803.13 L1001.79 803.59 L1001.89 804.04 L1001.99 804.49 L1002.10 804.95 L1002.21 805.40 L1002.33 805.85 L1002.46 806.30 L1002.59 806.76 L1002.73 807.21 L1002.88 807.66 L1003.03 808.11 L1003.19 808.57 L1003.36 809.02 L1003.53 809.47 L1003.71 809.93 L1003.90 810.38 L1004.09 810.83 L1004.29 811.28 L1004.50 811.74 L1004.71 812.19 L1004.93 812.64 L1005.16 813.09 L1005.39 813.55 L1005.63 814.00 L1005.88 814.45 L1006.13 814.91 L1006.38 815.36 L1006.64 815.81 L1006.91 816.26 L1007.18 816.72 L1007.45 817.17 L1007.72 817.62 L1008.00 818.07 L1008.28 818.53 L1008.56 818.98 L1008.85 819.43 L1009.13 819.89 L1009.41 820.34 L1009.70 820.79 L1009.98 821.24 L1010.25 821.70 L1010.53 822.15 L1010.80 822.60 L1011.07 823.05 L1011.33 823.51 L1011.59 823.96 L1011.84 824.41 L1012.08 824.87 L1012.32 825.32 L1012.55 825.77 L1012.77 826.22 L1012.97 826.68 L1013.17 827.13 L1013.36 827.58 L1013.53 828.03 L1013.70 828.49 L1013.85 828.94 L1013.99 829.39 L1014.11 829.85 L1014.22 830.30 L1014.32 830.75 L1014.40 831.20 L1014.47 831.66 L1014.52 832.11 L1014.55 832.56 L1014.57 833.01 L1014.58 833.47 L1014.57 833.92 L1014.54 834.37 L1014.50 834.83 L1014.45 835.28 L1014.38 835.73 L1014.29 836.18 L1014.19 836.64 L1014.08 837.09 L1013.95 837.54 L1013.81 837.99 L1013.65 838.45 L1013.48 838.90Z" fill="#f2b5d0" stroke="#3a3a3a" stroke-width="1.1" stroke-linejoin="round"/>
<line x1="1000.48" y1="664" x2="1000.48" y2="803.8" stroke="#3a3a3a" stroke-width="1.3" />
<line x1="995.08" y1="637.2" x2="1005.88" y2="637.2" stroke="#111" stroke-width="1.5" />
<line x1="1000.48" y1="838.9" x2="1000.48" y2="843.8" stroke="#111" stroke-width="1.3" />
<text transform="translate(996.2,848.5) rotate(90)" font-size="15.3" fill="#111">Tumor</text>
<rect x="665.0" y="677.0" width="1.1" height="1.1" fill="#222"/>
<rect x="698.7" y="664.0" width="1.1" height="1.1" fill="#222"/>
<rect x="862.2" y="675.5" width="1.1" height="1.1" fill="#222"/>
<rect x="866.7" y="676.0" width="1.1" height="1.1" fill="#222"/>
<rect x="861.9" y="686.0" width="1.1" height="1.1" fill="#222"/>
<rect x="865.5" y="692.0" width="1.1" height="1.1" fill="#222"/>
<rect x="862.2" y="735.5" width="1.1" height="1.1" fill="#222"/>
<rect x="868.2" y="640.5" width="1.1" height="1.1" fill="#222"/>
<rect x="963.1" y="651.5" width="1.1" height="1.1" fill="#222"/>
<rect x="962.6" y="667.0" width="1.1" height="1.1" fill="#222"/>
<rect x="968.1" y="666.0" width="1.1" height="1.1" fill="#222"/>
<rect x="963.6" y="684.5" width="1.1" height="1.1" fill="#222"/>
<rect x="966.1" y="694.0" width="1.1" height="1.1" fill="#222"/>
<rect x="966.1" y="717.5" width="1.1" height="1.1" fill="#222"/>
<rect x="966.9" y="732.0" width="1.1" height="1.1" fill="#222"/>
<rect x="1000.2" y="673.9" width="1.1" height="1.1" fill="#222"/>
<rect x="999.7" y="768.1" width="1.1" height="1.1" fill="#222"/>
<rect x="1000.3" y="682.2" width="1.1" height="1.1" fill="#222"/>
<rect x="999.9" y="645.1" width="1.1" height="1.1" fill="#222"/>
<rect x="1001.4" y="703.2" width="1.1" height="1.1" fill="#222"/>
<rect x="998.3" y="640.1" width="1.1" height="1.1" fill="#222"/>
<rect x="1002.4" y="639.9" width="1.1" height="1.1" fill="#222"/>
<rect x="997.5" y="715.6" width="1.1" height="1.1" fill="#222"/>
<rect x="1002.3" y="783.2" width="1.1" height="1.1" fill="#222"/>
<rect x="1000.5" y="707.8" width="1.1" height="1.1" fill="#222"/>
<rect x="996.4" y="643.3" width="1.1" height="1.1" fill="#222"/>
<rect x="997.6" y="685.5" width="1.1" height="1.1" fill="#222"/>
<rect x="998.2" y="645.5" width="1.1" height="1.1" fill="#222"/>
<rect x="999.5" y="638.2" width="1.1" height="1.1" fill="#222"/>
<rect x="1001.6" y="672.2" width="1.1" height="1.1" fill="#222"/>
<rect x="1000.6" y="684.0" width="1.1" height="1.1" fill="#222"/>
<rect x="1000.7" y="681.0" width="1.1" height="1.1" fill="#222"/>
<rect x="998.7" y="674.6" width="1.1" height="1.1" fill="#222"/>
<rect x="1002.4" y="787.3" width="1.1" height="1.1" fill="#222"/>
<rect x="1000.9" y="747.6" width="1.1" height="1.1" fill="#222"/>
<rect x="998.9" y="656.7" width="1.1" height="1.1" fill="#222"/>
<rect x="998.0" y="654.0" width="1.1" height="1.1" fill="#222"/>
<rect x="999.3" y="730.8" width="1.1" height="1.1" fill="#222"/>
<rect x="999.3" y="749.1" width="1.1" height="1.1" fill="#222"/>
<rect x="1001.7" y="776.8" width="1.1" height="1.1" fill="#222"/>
<rect x="997.3" y="638.0" width="1.1" height="1.1" fill="#222"/>
<rect x="999.7" y="764.6" width="1.1" height="1.1" fill="#222"/>
<rect x="999.3" y="782.7" width="1.1" height="1.1" fill="#222"/>
<rect x="1000.9" y="639.3" width="1.1" height="1.1" fill="#222"/>
<rect x="998.7" y="733.5" width="1.1" height="1.1" fill="#222"/>
<rect x="998.5" y="639.8" width="1.1" height="1.1" fill="#222"/>
<rect x="1001.2" y="778.4" width="1.1" height="1.1" fill="#222"/>
<rect x="997.9" y="641.2" width="1.1" height="1.1" fill="#222"/>
<rect x="996.3" y="640.4" width="1.1" height="1.1" fill="#222"/>
<rect x="998.2" y="737.7" width="1.1" height="1.1" fill="#222"/>
<rect x="999.6" y="690.7" width="1.1" height="1.1" fill="#222"/>
<rect x="1001.4" y="645.5" width="1.1" height="1.1" fill="#222"/>
<rect x="1000.9" y="641.8" width="1.1" height="1.1" fill="#222"/>
<rect x="999.2" y="641.1" width="1.1" height="1.1" fill="#222"/>
<rect x="998.4" y="647.2" width="1.1" height="1.1" fill="#222"/>
<rect x="1001.4" y="780.2" width="1.1" height="1.1" fill="#222"/>
<rect x="1001.3" y="655.6" width="1.1" height="1.1" fill="#222"/>
<rect x="999.2" y="647.0" width="1.1" height="1.1" fill="#222"/>
<rect x="1000.6" y="750.9" width="1.1" height="1.1" fill="#222"/>
<rect x="1003.8" y="640.3" width="1.1" height="1.1" fill="#222"/>
<rect x="998.4" y="647.2" width="1.1" height="1.1" fill="#222"/>
<rect x="999.0" y="732.2" width="1.1" height="1.1" fill="#222"/>
<rect x="998.1" y="654.7" width="1.1" height="1.1" fill="#222"/>
<rect x="1000.5" y="639.9" width="1.1" height="1.1" fill="#222"/>
<rect x="1000.4" y="649.7" width="1.1" height="1.1" fill="#222"/>
<rect x="999.8" y="663.2" width="1.1" height="1.1" fill="#222"/>
<rect x="999.8" y="777.1" width="1.1" height="1.1" fill="#222"/>
<rect x="1001.8" y="693.3" width="1.1" height="1.1" fill="#222"/>
<rect x="997.5" y="645.0" width="1.1" height="1.1" fill="#222"/>
<rect x="1001.5" y="764.1" width="1.1" height="1.1" fill="#222"/>
<rect x="998.2" y="650.3" width="1.1" height="1.1" fill="#222"/>
<rect x="1002.1" y="725.1" width="1.1" height="1.1" fill="#222"/>
<rect x="1002.7" y="646.0" width="1.1" height="1.1" fill="#222"/>
<rect x="1000.4" y="757.7" width="1.1" height="1.1" fill="#222"/>
<rect x="997.8" y="669.6" width="1.1" height="1.1" fill="#222"/>
<rect x="1003.8" y="638.4" width="1.1" height="1.1" fill="#222"/>
<rect x="1001.0" y="649.3" width="1.1" height="1.1" fill="#222"/>
<rect x="1001.5" y="650.9" width="1.1" height="1.1" fill="#222"/>
<rect x="998.8" y="697.1" width="1.1" height="1.1" fill="#222"/>
<rect x="1001.4" y="644.5" width="1.1" height="1.1" fill="#222"/>
<rect x="997.6" y="639.2" width="1.1" height="1.1" fill="#222"/>
<rect x="1001.7" y="690.7" width="1.1" height="1.1" fill="#222"/>
<rect x="998.7" y="700.3" width="1.1" height="1.1" fill="#222"/>
<rect x="998.3" y="766.4" width="1.1" height="1.1" fill="#222"/>
<rect x="997.9" y="638.0" width="1.1" height="1.1" fill="#222"/>
<rect x="997.6" y="673.0" width="1.1" height="1.1" fill="#222"/>
<rect x="999.0" y="644.5" width="1.1" height="1.1" fill="#222"/>
<rect x="997.9" y="692.9" width="1.1" height="1.1" fill="#222"/>
<rect x="1000.6" y="662.1" width="1.1" height="1.1" fill="#222"/>
<rect x="1000.7" y="782.7" width="1.1" height="1.1" fill="#222"/>
<rect x="1000.3" y="715.1" width="1.1" height="1.1" fill="#222"/>
<rect x="996.4" y="642.3" width="1.1" height="1.1" fill="#222"/>
<rect x="1003.4" y="638.1" width="1.1" height="1.1" fill="#222"/>
<rect x="1002.3" y="717.1" width="1.1" height="1.1" fill="#222"/>
<rect x="1001.0" y="638.1" width="1.1" height="1.1" fill="#222"/>
<rect x="511.9" y="627.1" width="505.1" height="211.79999999999995" fill="none" stroke="#111" stroke-width="1.9" />
<line x1="506.0" y1="637.2" x2="511.9" y2="637.2" stroke="#111" stroke-width="1.3" />
<text x="502.8" y="642.0" font-size="13.2" text-anchor="end" font-weight="normal" fill="#111" >1.00</text>
<line x1="506.0" y1="687.625" x2="511.9" y2="687.625" stroke="#111" stroke-width="1.3" />
<text x="502.8" y="692.425" font-size="13.2" text-anchor="end" font-weight="normal" fill="#111" >0.75</text>
<line x1="506.0" y1="738.05" x2="511.9" y2="738.05" stroke="#111" stroke-width="1.3" />
<text x="502.8" y="742.8499999999999" font-size="13.2" text-anchor="end" font-weight="normal" fill="#111" >0.50</text>
<line x1="506.0" y1="788.475" x2="511.9" y2="788.475" stroke="#111" stroke-width="1.3" />
<text x="502.8" y="793.275" font-size="13.2" text-anchor="end" font-weight="normal" fill="#111" >0.25</text>
<line x1="506.0" y1="838.9" x2="511.9" y2="838.9" stroke="#111" stroke-width="1.3" />
<text x="502.8" y="843.6999999999999" font-size="13.2" text-anchor="end" font-weight="normal" fill="#111" >0.00</text>
<text transform="translate(468.8,733) rotate(-90)" font-size="18" text-anchor="middle" fill="#111">Normalized Expression</text>
</svg></body></html>
